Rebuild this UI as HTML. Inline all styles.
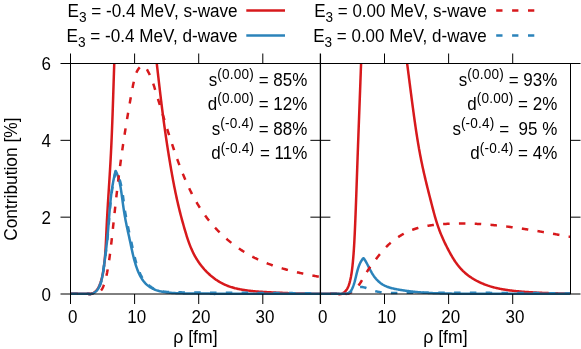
<!DOCTYPE html><html><head><meta charset="utf-8"><title>plot</title><style>html,body{margin:0;padding:0;background:#fff;overflow:hidden}svg{display:block;will-change:transform}text{font-family:"Liberation Sans",sans-serif;fill:#000}</style></head><body>
<svg width="581" height="349" viewBox="0 0 581 349">
<rect width="581" height="349" fill="#fff"/>
<defs><clipPath id="cl"><rect x="70.50" y="63.50" width="249.90" height="232.50"/></clipPath><clipPath id="cr"><rect x="320.40" y="63.50" width="250.10" height="232.50"/></clipPath></defs>
<path d="M70.50 293.70 L71.27 293.70 L72.04 293.70 L72.81 293.70 L73.58 293.70 L74.35 293.70 L75.12 293.70 L75.90 293.70 L76.67 293.70 L77.44 293.70 L78.21 293.70 L78.98 293.70 L79.75 293.70 L80.52 293.70 L81.29 293.70 L82.06 293.70 L82.83 293.70 L83.60 293.70 L84.38 293.70 L85.15 293.70 L85.92 293.70 L86.69 293.70 L87.46 293.70 L88.23 293.70 L89.00 293.70 L89.16 294.31 L90.03 294.17 L90.86 293.97 L91.64 293.72 L92.38 293.43 L93.08 293.10 L93.74 292.72 L94.37 292.31 L94.96 291.86 L95.52 291.37 L96.04 290.85 L96.54 290.30 L97.01 289.72 L97.45 289.12 L97.86 288.49 L98.25 287.84 L98.62 287.17 L98.96 286.48 L99.29 285.77 L99.60 285.05 L99.89 284.32 L100.17 283.58 L100.44 282.83 L100.69 282.07 L100.93 281.31 L101.17 280.55 L101.39 279.78 L101.60 279.01 L101.80 278.23 L102.00 277.45 L102.18 276.67 L102.36 275.89 L102.53 275.10 L102.69 274.31 L102.85 273.52 L103.00 272.72 L103.14 271.93 L103.27 271.13 L103.40 270.33 L103.52 269.53 L103.64 268.73 L103.76 267.93 L103.86 267.12 L103.97 266.32 L104.07 265.52 L104.17 264.72 L104.26 263.91 L104.35 263.11 L104.44 262.31 L104.53 261.51 L104.61 260.71 L104.69 259.91 L104.77 259.11 L104.84 258.31 L104.91 257.51 L104.98 256.71 L105.05 255.92 L105.11 255.12 L105.18 254.32 L105.24 253.52 L105.30 252.72 L105.35 251.93 L105.41 251.13 L105.46 250.33 L105.51 249.54 L105.56 248.74 L105.61 247.95 L105.66 247.15 L105.70 246.35 L105.75 245.56 L105.79 244.76 L105.83 243.97 L105.87 243.17 L105.91 242.38 L105.95 241.58 L105.99 240.79 L106.03 239.99 L106.07 239.20 L106.10 238.41 L106.14 237.61 L106.18 236.82 L106.21 236.02 L106.25 235.23 L106.28 234.43 L106.32 233.64 L106.35 232.85 L106.39 232.05 L106.42 231.26 L106.46 230.46 L106.50 229.67 L106.53 228.87 L106.57 228.08 L106.61 227.28 L106.65 226.49 L106.69 225.70 L106.73 224.90 L106.77 224.11 L106.81 223.31 L106.85 222.52 L106.89 221.72 L106.93 220.92 L106.97 220.13 L107.01 219.33 L107.06 218.54 L107.10 217.74 L107.14 216.95 L107.19 216.15 L107.23 215.36 L107.28 214.56 L107.32 213.76 L107.37 212.97 L107.41 212.17 L107.46 211.38 L107.50 210.58 L107.55 209.79 L107.60 208.99 L107.65 208.19 L107.69 207.40 L107.74 206.60 L107.79 205.80 L107.84 205.01 L107.88 204.21 L107.93 203.41 L107.98 202.62 L108.03 201.82 L108.08 201.03 L108.13 200.23 L108.18 199.43 L108.23 198.64 L108.28 197.84 L108.33 197.04 L108.38 196.24 L108.43 195.45 L108.48 194.65 L108.53 193.85 L108.58 193.06 L108.63 192.26 L108.68 191.46 L108.73 190.67 L108.78 189.87 L108.83 189.07 L108.88 188.27 L108.93 187.48 L108.98 186.68 L109.03 185.88 L109.08 185.09 L109.13 184.29 L109.18 183.49 L109.23 182.69 L109.28 181.90 L109.33 181.10 L109.38 180.30 L109.43 179.50 L109.48 178.71 L109.53 177.91 L109.58 177.11 L109.63 176.31 L109.68 175.52 L109.73 174.72 L109.78 173.92 L109.82 173.12 L109.87 172.33 L109.92 171.53 L109.97 170.73 L110.02 169.93 L110.06 169.14 L110.11 168.34 L110.16 167.54 L110.20 166.74 L110.25 165.95 L110.30 165.15 L110.34 164.35 L110.39 163.55 L110.43 162.76 L110.48 161.96 L110.52 161.16 L110.57 160.36 L110.61 159.57 L110.65 158.77 L110.69 157.97 L110.74 157.17 L110.78 156.38 L110.82 155.58 L110.86 154.78 L110.90 153.98 L110.94 153.19 L110.98 152.39 L111.02 151.59 L111.06 150.79 L111.10 150.00 L111.14 149.20 L111.18 148.40 L111.22 147.60 L111.26 146.81 L111.29 146.01 L111.33 145.21 L111.37 144.41 L111.41 143.62 L111.44 142.82 L111.48 142.02 L111.51 141.22 L111.55 140.43 L111.58 139.63 L111.62 138.83 L111.65 138.03 L111.69 137.24 L111.72 136.44 L111.76 135.64 L111.79 134.84 L111.82 134.05 L111.86 133.25 L111.89 132.45 L111.92 131.66 L111.95 130.86 L111.99 130.06 L112.02 129.26 L112.05 128.47 L112.08 127.67 L112.11 126.87 L112.14 126.07 L112.17 125.28 L112.20 124.48 L112.24 123.68 L112.27 122.88 L112.30 122.09 L112.33 121.29 L112.35 120.49 L112.38 119.69 L112.41 118.90 L112.44 118.10 L112.47 117.30 L112.50 116.51 L112.53 115.71 L112.56 114.91 L112.59 114.11 L112.61 113.32 L112.64 112.52 L112.67 111.72 L112.70 110.92 L112.72 110.13 L112.75 109.33 L112.78 108.53 L112.81 107.73 L112.83 106.94 L112.86 106.14 L112.89 105.34 L112.91 104.54 L112.94 103.75 L112.97 102.95 L112.99 102.15 L113.02 101.36 L113.05 100.56 L113.07 99.76 L113.10 98.96 L113.13 98.17 L113.15 97.37 L113.18 96.57 L113.20 95.77 L113.23 94.98 L113.25 94.18 L113.28 93.38 L113.31 92.58 L113.33 91.79 L113.36 90.99 L113.38 90.19 L113.41 89.39 L113.43 88.60 L113.46 87.80 L113.49 87.00 L113.51 86.20 L113.54 85.41 L113.56 84.61 L113.59 83.81 L113.61 83.01 L113.64 82.22 L113.66 81.42 L113.69 80.62 L113.72 79.82 L113.74 79.03 L113.77 78.23 L113.79 77.43 L113.82 76.63 L113.84 75.84 L113.87 75.04 L113.90 74.24 L113.92 73.44 L113.95 72.65 L113.97 71.85 L114.00 71.05 L114.03 70.25 L114.05 69.46 L114.08 68.66 L114.11 67.86 L114.13 67.06 L114.16 66.27 L114.19 65.47 L114.21 64.67 L114.24 63.87 L114.27 63.08 L114.29 62.28 L114.32 61.48 L114.35 60.68 L114.38 59.89 L114.40 59.09 L114.43 58.29 L114.46 57.49 L114.49 56.70 L114.52 55.90 L114.54 55.10 L114.57 54.30 L114.60 53.50 L114.63 52.71 L114.66 51.91 L114.69 51.11 L114.72 50.31 L114.75 49.52 L114.78 48.72 L114.81 47.92 L114.84 47.12 L114.87 46.32 L114.90 45.53 L114.93 44.73 L114.96 43.93 L114.99 43.13 L115.02 42.33 L115.06 41.54 L115.09 40.74 L115.12 39.94 L115.15 39.14 L115.19 38.35 L115.22 37.55 L115.25 36.75 L115.29 35.95 L115.32 35.15 L115.35 34.36 L115.39 33.56 L115.42 32.76 L115.46 31.96 L115.49 31.16 L115.53 30.37 L115.56 29.57 L115.60 28.77 L115.63 27.97 L115.67 27.17 L115.71 26.37 L115.74 25.58 L115.78 24.78 L115.82 23.98 L115.86 23.18 L115.90 22.38 L115.94 21.59 L115.97 20.79 L116.01 19.99 M151.43 20.00 L151.54 20.80 L151.65 21.59 L151.75 22.38 L151.86 23.17 L151.97 23.97 L152.07 24.76 L152.17 25.55 L152.28 26.34 L152.38 27.13 L152.48 27.93 L152.59 28.72 L152.69 29.51 L152.79 30.31 L152.89 31.10 L152.99 31.89 L153.09 32.68 L153.19 33.48 L153.29 34.27 L153.39 35.06 L153.49 35.86 L153.59 36.65 L153.69 37.44 L153.79 38.23 L153.88 39.03 L153.98 39.82 L154.08 40.61 L154.17 41.41 L154.27 42.20 L154.37 42.99 L154.46 43.79 L154.56 44.58 L154.65 45.37 L154.75 46.17 L154.84 46.96 L154.94 47.75 L155.03 48.55 L155.13 49.34 L155.22 50.13 L155.31 50.93 L155.41 51.72 L155.50 52.51 L155.59 53.31 L155.69 54.10 L155.78 54.89 L155.87 55.69 L155.96 56.48 L156.06 57.27 L156.15 58.07 L156.24 58.86 L156.33 59.65 L156.42 60.45 L156.52 61.24 L156.61 62.03 L156.70 62.83 L156.79 63.62 L156.88 64.42 L156.97 65.21 L157.06 66.00 L157.15 66.80 L157.25 67.59 L157.34 68.38 L157.43 69.18 L157.52 69.97 L157.61 70.76 L157.70 71.56 L157.79 72.35 L157.88 73.15 L157.97 73.94 L158.07 74.73 L158.16 75.53 L158.25 76.32 L158.34 77.11 L158.43 77.91 L158.52 78.70 L158.61 79.49 L158.70 80.29 L158.80 81.08 L158.89 81.87 L158.98 82.67 L159.07 83.46 L159.16 84.25 L159.26 85.05 L159.35 85.84 L159.44 86.63 L159.53 87.43 L159.63 88.22 L159.72 89.02 L159.81 89.81 L159.91 90.60 L160.00 91.40 L160.09 92.19 L160.19 92.98 L160.28 93.77 L160.38 94.57 L160.47 95.36 L160.57 96.15 L160.66 96.95 L160.76 97.74 L160.85 98.53 L160.95 99.33 L161.04 100.12 L161.14 100.91 L161.24 101.71 L161.33 102.50 L161.43 103.29 L161.53 104.08 L161.63 104.88 L161.73 105.67 L161.82 106.46 L161.92 107.26 L162.02 108.05 L162.12 108.84 L162.22 109.63 L162.32 110.43 L162.43 111.22 L162.53 112.01 L162.63 112.80 L162.73 113.60 L162.83 114.39 L162.94 115.18 L163.04 115.97 L163.14 116.77 L163.25 117.56 L163.35 118.35 L163.46 119.14 L163.57 119.93 L163.67 120.73 L163.78 121.52 L163.89 122.31 L163.99 123.10 L164.10 123.89 L164.21 124.69 L164.32 125.48 L164.43 126.27 L164.54 127.06 L164.65 127.85 L164.76 128.64 L164.87 129.43 L164.98 130.23 L165.09 131.02 L165.21 131.81 L165.32 132.60 L165.43 133.39 L165.55 134.18 L165.66 134.97 L165.78 135.76 L165.89 136.55 L166.01 137.35 L166.13 138.14 L166.24 138.93 L166.36 139.72 L166.48 140.51 L166.60 141.30 L166.71 142.09 L166.83 142.88 L166.95 143.67 L167.07 144.46 L167.19 145.25 L167.31 146.04 L167.44 146.83 L167.56 147.62 L167.68 148.41 L167.80 149.20 L167.93 149.99 L168.05 150.78 L168.18 151.57 L168.30 152.35 L168.43 153.14 L168.55 153.93 L168.68 154.72 L168.80 155.51 L168.93 156.30 L169.06 157.09 L169.19 157.88 L169.32 158.67 L169.45 159.45 L169.58 160.24 L169.71 161.03 L169.84 161.82 L169.97 162.61 L170.10 163.39 L170.23 164.18 L170.37 164.97 L170.50 165.76 L170.63 166.54 L170.77 167.33 L170.90 168.12 L171.04 168.91 L171.17 169.69 L171.31 170.48 L171.45 171.27 L171.59 172.05 L171.73 172.84 L171.87 173.63 L172.01 174.41 L172.15 175.20 L172.29 175.98 L172.43 176.77 L172.58 177.55 L172.72 178.34 L172.86 179.12 L173.01 179.91 L173.16 180.69 L173.31 181.48 L173.45 182.26 L173.60 183.05 L173.75 183.83 L173.90 184.61 L174.06 185.40 L174.21 186.18 L174.36 186.96 L174.52 187.74 L174.68 188.53 L174.83 189.31 L174.99 190.09 L175.15 190.87 L175.31 191.65 L175.47 192.43 L175.64 193.22 L175.80 194.00 L175.97 194.78 L176.13 195.56 L176.30 196.34 L176.47 197.12 L176.64 197.89 L176.81 198.67 L176.98 199.45 L177.15 200.23 L177.33 201.01 L177.51 201.79 L177.68 202.56 L177.86 203.34 L178.04 204.12 L178.22 204.89 L178.41 205.67 L178.59 206.45 L178.78 207.22 L178.96 208.00 L179.15 208.77 L179.34 209.55 L179.54 210.32 L179.73 211.09 L179.92 211.87 L180.12 212.64 L180.32 213.41 L180.51 214.19 L180.71 214.96 L180.92 215.73 L181.12 216.50 L181.32 217.27 L181.53 218.05 L181.74 218.82 L181.94 219.59 L182.15 220.36 L182.36 221.13 L182.58 221.90 L182.79 222.67 L183.00 223.44 L183.22 224.21 L183.44 224.98 L183.66 225.76 L183.88 226.53 L184.10 227.30 L184.32 228.07 L184.55 228.84 L184.77 229.61 L185.00 230.38 L185.23 231.15 L185.46 231.92 L185.69 232.69 L185.92 233.46 L186.15 234.23 L186.39 235.00 L186.63 235.77 L186.87 236.54 L187.12 237.30 L187.37 238.07 L187.62 238.83 L187.87 239.60 L188.13 240.36 L188.39 241.12 L188.66 241.88 L188.93 242.64 L189.20 243.39 L189.48 244.14 L189.77 244.90 L190.06 245.64 L190.35 246.39 L190.65 247.13 L190.96 247.88 L191.27 248.61 L191.59 249.35 L191.92 250.08 L192.25 250.81 L192.59 251.54 L192.93 252.26 L193.28 252.98 L193.64 253.69 L194.01 254.41 L194.39 255.11 L194.77 255.82 L195.16 256.52 L195.56 257.21 L195.96 257.90 L196.37 258.59 L196.79 259.27 L197.22 259.95 L197.65 260.62 L198.09 261.29 L198.54 261.95 L198.99 262.61 L199.45 263.26 L199.92 263.91 L200.40 264.55 L200.88 265.19 L201.37 265.82 L201.86 266.44 L202.37 267.06 L202.88 267.67 L203.39 268.28 L203.91 268.88 L204.44 269.48 L204.98 270.06 L205.52 270.65 L206.06 271.22 L206.62 271.79 L207.18 272.35 L207.75 272.90 L208.32 273.45 L208.90 273.99 L209.48 274.52 L210.07 275.05 L210.67 275.57 L211.27 276.08 L211.88 276.58 L212.50 277.07 L213.12 277.56 L213.75 278.04 L214.38 278.51 L215.02 278.97 L215.66 279.43 L216.31 279.87 L216.97 280.31 L217.63 280.74 L218.29 281.15 L218.96 281.56 L219.64 281.97 L220.32 282.36 L221.01 282.74 L221.70 283.11 L222.40 283.48 L223.11 283.83 L223.81 284.18 L224.53 284.51 L225.25 284.84 L225.97 285.15 L226.70 285.46 L227.43 285.75 L228.17 286.04 L228.91 286.31 L229.66 286.57 L230.41 286.83 L231.17 287.08 L231.93 287.31 L232.69 287.54 L233.46 287.76 L234.23 287.97 L235.01 288.18 L235.79 288.37 L236.57 288.56 L237.35 288.74 L238.13 288.91 L238.92 289.08 L239.71 289.24 L240.51 289.39 L241.30 289.54 L242.10 289.68 L242.90 289.81 L243.70 289.94 L244.50 290.07 L245.30 290.19 L246.10 290.30 L246.91 290.41 L247.71 290.52 L248.51 290.62 L249.32 290.72 L250.12 290.81 L250.93 290.90 L251.73 290.99 L252.54 291.07 L253.34 291.15 L254.15 291.23 L254.95 291.30 L255.76 291.38 L256.56 291.45 L257.36 291.51 L258.17 291.58 L258.97 291.64 L259.77 291.70 L260.57 291.76 L261.38 291.82 L262.18 291.87 L262.98 291.92 L263.78 291.97 L264.58 292.02 L265.38 292.07 L266.19 292.11 L266.99 292.16 L267.79 292.20 L268.59 292.24 L269.38 292.29 L270.18 292.33 L270.98 292.37 L271.78 292.40 L272.58 292.44 L273.38 292.48 L274.17 292.52 L274.97 292.55 L275.77 292.59 L276.56 292.63 L277.36 292.66 L278.15 292.70 L278.95 292.74 L279.74 292.77 L280.54 292.81 L281.33 292.84 L282.13 292.87 L282.92 292.91 L283.71 292.94 L284.51 292.97 L285.30 293.01 L286.09 293.04 L286.89 293.07 L287.68 293.10 L288.47 293.13 L289.27 293.16 L290.06 293.19 L290.85 293.22 L291.65 293.25 L292.44 293.27 L293.24 293.30 L294.03 293.33 L294.82 293.35 L295.62 293.38 L296.41 293.40 L297.21 293.42 L298.00 293.44 L298.80 293.47 L299.59 293.49 L300.39 293.51 L301.18 293.53 L301.98 293.54 L302.78 293.56 L303.58 293.58 L304.37 293.59 L305.17 293.61 L305.97 293.62 L306.77 293.64 L307.57 293.65 L308.37 293.66 L309.17 293.67 L309.97 293.68 L310.78 293.69 L311.58 293.69 L312.38 293.70 L313.19 293.70 L313.99 293.71 L314.80 293.71 L315.60 293.71 L316.41 293.71 L317.22 293.71 L318.03 293.71 L318.84 293.70 L319.65 293.70 L320.46 293.69" fill="none" stroke="#d7191c" stroke-width="2.5" stroke-linejoin="round" clip-path="url(#cl)"/>
<path d="M70.50 293.70 L71.27 293.70 L72.04 293.70 L72.81 293.70 L73.58 293.70 L74.35 293.70 L75.12 293.70 L75.90 293.70 L76.67 293.70 L77.44 293.70 L78.21 293.70 L78.98 293.70 L79.75 293.70 L80.52 293.70 L81.29 293.70 L82.06 293.70 L82.83 293.70 L83.60 293.70 L84.38 293.70 L85.15 293.70 L85.92 293.70 L86.69 293.70 L87.46 293.70 L88.23 293.70 L89.00 293.70 L88.98 294.06 L89.89 294.01 L90.76 293.90 L91.59 293.73 L92.36 293.50 L93.10 293.22 L93.80 292.90 L94.45 292.52 L95.07 292.10 L95.65 291.64 L96.20 291.14 L96.71 290.61 L97.20 290.04 L97.65 289.44 L98.08 288.81 L98.47 288.15 L98.85 287.47 L99.20 286.77 L99.53 286.05 L99.83 285.32 L100.12 284.58 L100.39 283.82 L100.65 283.06 L100.89 282.29 L101.12 281.52 L101.34 280.75 L101.54 279.97 L101.74 279.19 L101.92 278.41 L102.10 277.63 L102.26 276.84 L102.42 276.05 L102.57 275.26 L102.71 274.47 L102.85 273.68 L102.98 272.88 L103.10 272.09 L103.22 271.29 L103.34 270.50 L103.45 269.70 L103.56 268.90 L103.67 268.11 L103.78 267.31 L103.89 266.51 L104.00 265.72 L104.11 264.92 L104.21 264.13 L104.32 263.34 L104.43 262.54 L104.53 261.75 L104.64 260.96 L104.74 260.17 L104.85 259.38 L104.95 258.59 L105.05 257.80 L105.16 257.01 L105.26 256.22 L105.36 255.43 L105.46 254.64 L105.56 253.85 L105.66 253.06 L105.76 252.27 L105.86 251.49 L105.95 250.70 L106.05 249.91 L106.14 249.12 L106.24 248.33 L106.33 247.55 L106.42 246.76 L106.51 245.97 L106.60 245.18 L106.69 244.39 L106.78 243.61 L106.87 242.82 L106.95 242.03 L107.04 241.24 L107.12 240.45 L107.20 239.66 L107.28 238.87 L107.36 238.08 L107.44 237.29 L107.52 236.50 L107.59 235.71 L107.67 234.92 L107.74 234.13 L107.81 233.34 L107.88 232.55 L107.95 231.75 L108.02 230.96 L108.09 230.17 L108.15 229.37 L108.22 228.58 L108.28 227.79 L108.35 226.99 L108.41 226.20 L108.47 225.40 L108.54 224.61 L108.60 223.81 L108.66 223.02 L108.72 222.22 L108.78 221.43 L108.84 220.63 L108.90 219.84 L108.96 219.04 L109.03 218.25 L109.09 217.45 L109.15 216.65 L109.21 215.86 L109.27 215.06 L109.34 214.27 L109.40 213.47 L109.46 212.67 L109.53 211.88 L109.59 211.08 L109.66 210.29 L109.72 209.49 L109.79 208.70 L109.86 207.90 L109.93 207.11 L110.00 206.31 L110.08 205.52 L110.15 204.72 L110.22 203.93 L110.30 203.14 L110.38 202.34 L110.46 201.55 L110.54 200.76 L110.62 199.96 L110.71 199.17 L110.79 198.38 L110.88 197.59 L110.97 196.80 L111.07 196.00 L111.16 195.21 L111.26 194.42 L111.36 193.63 L111.46 192.85 L111.57 192.06 L111.67 191.27 L111.78 190.48 L111.89 189.69 L112.01 188.91 L112.13 188.12 L112.25 187.34 L112.37 186.55 L112.50 185.77 L112.63 184.98 L112.76 184.20 L112.90 183.42 L113.04 182.64 L113.18 181.85 L113.33 181.07 L113.48 180.29 L113.63 179.52 L113.79 178.74 L113.95 177.96 L114.11 177.18 L114.28 176.41 L114.45 175.63 L114.63 174.86 L114.81 174.08 L114.99 173.31 L115.18 172.54 L115.38 171.77 L115.58 171.00 L115.77 170.98 L116.12 171.72 L116.46 172.46 L116.77 173.20 L117.08 173.95 L117.37 174.69 L117.65 175.45 L117.91 176.20 L118.16 176.96 L118.40 177.72 L118.63 178.48 L118.85 179.25 L119.05 180.02 L119.25 180.79 L119.44 181.56 L119.62 182.33 L119.79 183.11 L119.95 183.89 L120.11 184.67 L120.26 185.45 L120.40 186.23 L120.54 187.02 L120.67 187.80 L120.80 188.59 L120.92 189.38 L121.04 190.16 L121.16 190.95 L121.27 191.74 L121.39 192.53 L121.50 193.32 L121.61 194.12 L121.72 194.91 L121.82 195.70 L121.93 196.49 L122.04 197.28 L122.15 198.07 L122.25 198.86 L122.36 199.66 L122.47 200.45 L122.58 201.24 L122.69 202.03 L122.79 202.82 L122.90 203.61 L123.01 204.41 L123.13 205.20 L123.24 205.99 L123.35 206.78 L123.47 207.57 L123.58 208.36 L123.70 209.15 L123.82 209.94 L123.94 210.73 L124.06 211.52 L124.19 212.31 L124.31 213.10 L124.44 213.89 L124.57 214.67 L124.71 215.46 L124.84 216.25 L124.98 217.04 L125.12 217.82 L125.26 218.61 L125.41 219.39 L125.56 220.18 L125.71 220.96 L125.86 221.75 L126.02 222.53 L126.18 223.31 L126.34 224.10 L126.50 224.88 L126.66 225.66 L126.82 226.44 L126.99 227.22 L127.16 228.00 L127.32 228.78 L127.49 229.56 L127.66 230.34 L127.83 231.12 L128.00 231.90 L128.17 232.68 L128.35 233.46 L128.52 234.24 L128.69 235.02 L128.86 235.80 L129.03 236.57 L129.20 237.35 L129.37 238.13 L129.54 238.91 L129.71 239.68 L129.88 240.46 L130.05 241.24 L130.21 242.02 L130.38 242.79 L130.54 243.57 L130.70 244.34 L130.87 245.12 L131.03 245.90 L131.20 246.67 L131.36 247.45 L131.53 248.23 L131.69 249.00 L131.86 249.78 L132.03 250.55 L132.20 251.33 L132.38 252.11 L132.55 252.88 L132.73 253.66 L132.91 254.44 L133.10 255.21 L133.28 255.99 L133.47 256.76 L133.67 257.54 L133.87 258.32 L134.07 259.09 L134.28 259.87 L134.49 260.65 L134.71 261.43 L134.93 262.20 L135.16 262.98 L135.39 263.76 L135.63 264.54 L135.88 265.31 L136.13 266.09 L136.39 266.87 L136.66 267.64 L136.93 268.41 L137.21 269.18 L137.50 269.95 L137.80 270.71 L138.11 271.46 L138.43 272.21 L138.75 272.96 L139.09 273.70 L139.44 274.43 L139.80 275.15 L140.17 275.86 L140.55 276.56 L140.94 277.26 L141.35 277.94 L141.76 278.62 L142.19 279.28 L142.64 279.92 L143.09 280.56 L143.56 281.18 L144.05 281.79 L144.55 282.38 L145.06 282.96 L145.59 283.52 L146.14 284.06 L146.70 284.59 L147.27 285.10 L147.87 285.59 L148.48 286.06 L149.10 286.52 L149.74 286.95 L150.39 287.37 L151.06 287.77 L151.74 288.15 L152.43 288.52 L153.13 288.86 L153.84 289.19 L154.56 289.51 L155.30 289.80 L156.04 290.08 L156.79 290.34 L157.55 290.59 L158.31 290.81 L159.08 291.03 L159.86 291.22 L160.64 291.40 L161.43 291.57 L162.22 291.73 L163.02 291.88 L163.82 292.01 L164.62 292.13 L165.43 292.25 L166.23 292.35 L167.04 292.45 L167.85 292.54 L168.66 292.62 L169.47 292.70 L170.27 292.77 L171.08 292.84 L171.89 292.90 L172.69 292.96 L173.50 293.01 L174.30 293.06 L175.10 293.11 L175.91 293.15 L176.71 293.19 L177.51 293.22 L178.31 293.25 L179.11 293.28 L179.91 293.30 L180.71 293.33 L181.51 293.35 L182.31 293.36 L183.11 293.38 L183.91 293.39 L184.70 293.40 L185.50 293.41 L186.30 293.41 L187.10 293.42 L187.89 293.42 L188.69 293.42 L189.49 293.42 L190.28 293.42 L191.08 293.42 L191.87 293.42 L192.67 293.42 L193.47 293.42 L194.26 293.42 L195.06 293.42 L195.85 293.42 L196.65 293.42 L197.44 293.42 L198.24 293.42 L199.04 293.42 L199.83 293.43 L200.63 293.43 L201.42 293.44 L202.22 293.45 L203.02 293.46 L203.81 293.47 L204.61 293.48 L205.41 293.50 L206.20 293.52 L207.00 293.54 L207.80 293.57 L208.60 293.59 L209.40 293.62 L210.20 293.66 L211.00 293.70 L211.80 293.74 L212.60 293.79 L213.40 293.84 L214.20 293.89 L215.00 293.95 L215.00 293.70 L215.80 293.70 L216.60 293.70 L217.40 293.70 L218.19 293.70 L218.99 293.70 L219.79 293.70 L220.59 293.70 L221.39 293.70 L222.19 293.70 L222.98 293.70 L223.78 293.70 L224.58 293.70 L225.38 293.70 L226.18 293.70 L226.98 293.70 L227.78 293.70 L228.57 293.70 L229.37 293.70 L230.17 293.70 L230.97 293.70 L231.77 293.70 L232.57 293.70 L233.37 293.70 L234.16 293.70 L234.96 293.70 L235.76 293.70 L236.56 293.70 L237.36 293.70 L238.16 293.70 L238.95 293.70 L239.75 293.70 L240.55 293.70 L241.35 293.70 L242.15 293.70 L242.95 293.70 L243.75 293.70 L244.54 293.70 L245.34 293.70 L246.14 293.70 L246.94 293.70 L247.74 293.70 L248.54 293.70 L249.33 293.70 L250.13 293.70 L250.93 293.70 L251.73 293.70 L252.53 293.70 L253.33 293.70 L254.13 293.70 L254.92 293.70 L255.72 293.70 L256.52 293.70 L257.32 293.70 L258.12 293.70 L258.92 293.70 L259.72 293.70 L260.51 293.70 L261.31 293.70 L262.11 293.70 L262.91 293.70 L263.71 293.70 L264.51 293.70 L265.30 293.70 L266.10 293.70 L266.90 293.70 L267.70 293.70 L268.50 293.70 L269.30 293.70 L270.10 293.70 L270.89 293.70 L271.69 293.70 L272.49 293.70 L273.29 293.70 L274.09 293.70 L274.89 293.70 L275.68 293.70 L276.48 293.70 L277.28 293.70 L278.08 293.70 L278.88 293.70 L279.68 293.70 L280.48 293.70 L281.27 293.70 L282.07 293.70 L282.87 293.70 L283.67 293.70 L284.47 293.70 L285.27 293.70 L286.07 293.70 L286.86 293.70 L287.66 293.70 L288.46 293.70 L289.26 293.70 L290.06 293.70 L290.86 293.70 L291.65 293.70 L292.45 293.70 L293.25 293.70 L294.05 293.70 L294.85 293.70 L295.65 293.70 L296.45 293.70 L297.24 293.70 L298.04 293.70 L298.84 293.70 L299.64 293.70 L300.44 293.70 L301.24 293.70 L302.03 293.70 L302.83 293.70 L303.63 293.70 L304.43 293.70 L305.23 293.70 L306.03 293.70 L306.83 293.70 L307.62 293.70 L308.42 293.70 L309.22 293.70 L310.02 293.70 L310.82 293.70 L311.62 293.70 L312.42 293.70 L313.21 293.70 L314.01 293.70 L314.81 293.70 L315.61 293.70 L316.41 293.70 L317.21 293.70 L318.00 293.70 L318.80 293.70 L319.60 293.70 L320.40 293.70" fill="none" stroke="#2b83ba" stroke-width="2.5" stroke-linejoin="round" clip-path="url(#cl)"/>
<path d="M70.50 293.70 L71.30 293.70 L72.09 293.70 L72.89 293.70 L73.69 293.70 L74.48 293.70 L75.28 293.70 L76.07 293.70 L76.87 293.70 L77.67 293.70 L78.46 293.70 L79.26 293.70 L80.06 293.70 L80.85 293.70 L81.65 293.70 L82.44 293.70 L83.24 293.70 L84.04 293.70 L84.83 293.70 L85.63 293.70 L86.43 293.70 L87.22 293.70 L88.02 293.70 L88.81 293.70 L89.61 293.70 L90.41 293.70 L91.20 293.70 L92.00 293.70 L91.72 293.58 L92.76 293.75 L93.74 293.83 L94.66 293.84 L95.52 293.76 L96.33 293.62 L97.09 293.40 L97.80 293.13 L98.47 292.79 L99.09 292.39 L99.67 291.94 L100.21 291.44 L100.71 290.90 L101.18 290.31 L101.62 289.69 L102.02 289.04 L102.40 288.35 L102.75 287.64 L103.09 286.91 L103.40 286.16 L103.69 285.40 L103.97 284.62 L104.23 283.85 L104.48 283.07 L104.72 282.28 L104.96 281.50 L105.18 280.72 L105.40 279.94 L105.61 279.16 L105.81 278.38 L106.00 277.60 L106.19 276.82 L106.37 276.04 L106.54 275.26 L106.71 274.48 L106.87 273.69 L107.03 272.91 L107.19 272.13 L107.33 271.35 L107.48 270.56 L107.62 269.78 L107.76 268.99 L107.89 268.21 L108.03 267.42 L108.16 266.64 L108.29 265.85 L108.42 265.06 L108.54 264.28 L108.66 263.49 L108.79 262.70 L108.90 261.91 L109.02 261.12 L109.14 260.33 L109.25 259.54 L109.36 258.75 L109.48 257.96 L109.59 257.17 L109.69 256.38 L109.80 255.59 L109.90 254.80 L110.01 254.00 L110.11 253.21 L110.21 252.42 L110.31 251.62 L110.41 250.83 L110.51 250.04 L110.60 249.24 L110.70 248.45 L110.79 247.65 L110.89 246.86 L110.98 246.06 L111.07 245.27 L111.16 244.47 L111.25 243.68 L111.34 242.88 L111.43 242.09 L111.52 241.29 L111.61 240.50 L111.70 239.70 L111.79 238.90 L111.87 238.11 L111.96 237.31 L112.04 236.52 L112.13 235.72 L112.22 234.93 L112.30 234.13 L112.39 233.33 L112.47 232.54 L112.56 231.74 L112.64 230.95 L112.73 230.15 L112.81 229.36 L112.90 228.56 L112.98 227.77 L113.07 226.97 L113.15 226.18 L113.24 225.38 L113.33 224.58 L113.41 223.79 L113.50 222.99 L113.58 222.20 L113.67 221.40 L113.75 220.61 L113.84 219.81 L113.92 219.02 L114.01 218.23 L114.09 217.43 L114.18 216.64 L114.26 215.84 L114.35 215.05 L114.43 214.25 L114.52 213.46 L114.60 212.66 L114.69 211.87 L114.78 211.07 L114.86 210.28 L114.95 209.48 L115.04 208.69 L115.12 207.90 L115.21 207.10 L115.30 206.31 L115.38 205.51 L115.47 204.72 L115.56 203.92 L115.64 203.13 L115.73 202.34 L115.82 201.54 L115.91 200.75 L116.00 199.95 L116.09 199.16 L116.17 198.37 L116.26 197.57 L116.35 196.78 L116.44 195.99 L116.53 195.19 L116.62 194.40 L116.71 193.60 L116.80 192.81 L116.89 192.02 L116.99 191.22 L117.08 190.43 L117.17 189.64 L117.26 188.84 L117.35 188.05 L117.45 187.25 L117.54 186.46 L117.63 185.67 L117.73 184.87 L117.82 184.08 L117.91 183.29 L118.01 182.49 L118.10 181.70 L118.20 180.91 L118.30 180.11 L118.39 179.32 L118.49 178.53 L118.59 177.73 L118.68 176.94 L118.78 176.15 L118.88 175.35 L118.98 174.56 L119.08 173.77 L119.18 172.97 L119.28 172.18 L119.38 171.39 L119.48 170.59 L119.58 169.80 L119.69 169.01 L119.79 168.21 L119.89 167.42 L120.00 166.63 L120.10 165.84 L120.21 165.04 L120.31 164.25 L120.42 163.46 L120.52 162.66 L120.63 161.87 L120.74 161.08 L120.85 160.28 L120.95 159.49 L121.06 158.70 L121.17 157.90 L121.28 157.11 L121.39 156.32 L121.50 155.53 L121.61 154.73 L121.73 153.94 L121.84 153.15 L121.95 152.36 L122.06 151.56 L122.18 150.77 L122.29 149.98 L122.41 149.19 L122.52 148.39 L122.64 147.60 L122.75 146.81 L122.87 146.02 L122.99 145.23 L123.10 144.43 L123.22 143.64 L123.34 142.85 L123.46 142.06 L123.58 141.27 L123.70 140.47 L123.82 139.68 L123.94 138.89 L124.06 138.10 L124.18 137.31 L124.30 136.52 L124.42 135.73 L124.54 134.94 L124.67 134.15 L124.79 133.35 L124.91 132.56 L125.04 131.77 L125.16 130.98 L125.28 130.19 L125.41 129.40 L125.53 128.61 L125.66 127.82 L125.79 127.03 L125.91 126.24 L126.04 125.45 L126.17 124.67 L126.29 123.88 L126.42 123.09 L126.55 122.30 L126.68 121.51 L126.81 120.72 L126.94 119.93 L127.07 119.14 L127.20 118.36 L127.33 117.57 L127.46 116.78 L127.59 115.99 L127.72 115.20 L127.85 114.42 L127.98 113.63 L128.11 112.84 L128.25 112.06 L128.38 111.27 L128.51 110.48 L128.64 109.70 L128.78 108.91 L128.91 108.12 L129.05 107.34 L129.18 106.55 L129.31 105.77 L129.45 104.98 L129.58 104.20 L129.72 103.41 L129.86 102.63 L129.99 101.84 L130.13 101.06 L130.26 100.28 L130.40 99.49 L130.54 98.71 L130.68 97.92 L130.81 97.14 L130.95 96.36 L131.09 95.57 L131.23 94.79 L131.37 94.01 L131.52 93.22 L131.66 92.44 L131.80 91.65 L131.95 90.87 L132.10 90.08 L132.25 89.29 L132.40 88.50 L132.55 87.71 L132.71 86.92 L132.86 86.13 L133.02 85.34 L133.18 84.55 L133.35 83.75 L133.52 82.95 L133.69 82.16 L133.86 81.36 L134.03 80.55 L134.22 79.75 L134.40 78.96 L134.60 78.16 L134.81 77.37 L135.03 76.58 L135.26 75.80 L135.50 75.03 L135.77 74.27 L136.05 73.52 L136.35 72.79 L136.67 72.06 L137.01 71.35 L137.38 70.66 L137.77 69.99 L138.19 69.33 L138.64 68.70 L139.12 68.08 L139.63 67.49 L140.17 66.93 L140.75 66.40 L141.34 65.97 L141.95 65.65 L142.57 65.50 L143.19 65.54 L143.80 65.79 L144.40 66.20 L144.98 66.76 L145.55 67.41 L146.08 68.13 L146.59 68.90 L147.07 69.69 L147.53 70.49 L147.96 71.28 L148.36 72.05 L148.74 72.78 L149.10 73.50 L149.45 74.20 L149.78 74.90 L150.10 75.60 L150.41 76.30 L150.72 77.02 L151.02 77.74 L151.31 78.46 L151.60 79.19 L151.88 79.93 L152.16 80.67 L152.43 81.42 L152.69 82.17 L152.96 82.92 L153.21 83.68 L153.47 84.44 L153.72 85.20 L153.97 85.97 L154.22 86.73 L154.46 87.50 L154.70 88.27 L154.94 89.04 L155.18 89.81 L155.42 90.58 L155.66 91.35 L155.90 92.12 L156.14 92.89 L156.37 93.66 L156.61 94.43 L156.85 95.20 L157.08 95.96 L157.32 96.73 L157.56 97.50 L157.79 98.27 L158.03 99.03 L158.26 99.80 L158.49 100.57 L158.73 101.33 L158.96 102.10 L159.20 102.87 L159.43 103.63 L159.66 104.40 L159.89 105.16 L160.13 105.93 L160.36 106.69 L160.59 107.46 L160.83 108.22 L161.06 108.99 L161.29 109.75 L161.52 110.52 L161.76 111.28 L161.99 112.04 L162.22 112.81 L162.45 113.57 L162.69 114.33 L162.92 115.10 L163.15 115.86 L163.38 116.62 L163.62 117.38 L163.85 118.15 L164.08 118.91 L164.32 119.67 L164.55 120.43 L164.79 121.19 L165.02 121.95 L165.25 122.71 L165.49 123.47 L165.72 124.23 L165.96 125.00 L166.20 125.76 L166.43 126.52 L166.67 127.28 L166.91 128.04 L167.14 128.80 L167.38 129.55 L167.62 130.31 L167.86 131.07 L168.10 131.83 L168.34 132.59 L168.58 133.35 L168.82 134.11 L169.06 134.87 L169.30 135.63 L169.55 136.38 L169.79 137.14 L170.03 137.90 L170.28 138.66 L170.52 139.42 L170.77 140.17 L171.02 140.93 L171.27 141.69 L171.51 142.45 L171.76 143.20 L172.01 143.96 L172.26 144.72 L172.52 145.47 L172.77 146.23 L173.02 146.99 L173.28 147.75 L173.53 148.50 L173.79 149.26 L174.05 150.01 L174.30 150.77 L174.56 151.53 L174.82 152.28 L175.09 153.04 L175.35 153.80 L175.61 154.55 L175.88 155.31 L176.14 156.06 L176.41 156.82 L176.68 157.57 L176.95 158.33 L177.22 159.09 L177.49 159.84 L177.76 160.59 L178.04 161.35 L178.31 162.10 L178.59 162.86 L178.87 163.61 L179.15 164.36 L179.43 165.12 L179.71 165.87 L180.00 166.62 L180.28 167.37 L180.57 168.12 L180.86 168.87 L181.15 169.62 L181.44 170.37 L181.74 171.12 L182.03 171.86 L182.33 172.61 L182.63 173.36 L182.93 174.10 L183.24 174.85 L183.54 175.59 L183.85 176.33 L184.16 177.07 L184.47 177.81 L184.79 178.55 L185.10 179.29 L185.42 180.03 L185.74 180.77 L186.06 181.50 L186.39 182.23 L186.71 182.97 L187.04 183.70 L187.37 184.43 L187.71 185.16 L188.04 185.89 L188.38 186.62 L188.72 187.34 L189.07 188.07 L189.41 188.79 L189.76 189.51 L190.11 190.23 L190.47 190.95 L190.82 191.66 L191.18 192.38 L191.54 193.09 L191.91 193.81 L192.27 194.52 L192.64 195.23 L193.02 195.93 L193.39 196.64 L193.77 197.34 L194.15 198.05 L194.53 198.75 L194.92 199.44 L195.31 200.14 L195.70 200.84 L196.10 201.53 L196.50 202.22 L196.90 202.91 L197.31 203.59 L197.72 204.28 L198.13 204.96 L198.54 205.64 L198.96 206.32 L199.38 207.00 L199.81 207.67 L200.24 208.34 L200.67 209.01 L201.10 209.68 L201.54 210.35 L201.99 211.01 L202.43 211.67 L202.88 212.33 L203.33 212.98 L203.79 213.64 L204.25 214.29 L204.71 214.93 L205.18 215.58 L205.65 216.22 L206.13 216.86 L206.61 217.50 L207.09 218.14 L207.58 218.77 L208.07 219.40 L208.56 220.02 L209.06 220.65 L209.56 221.27 L210.06 221.89 L210.57 222.51 L211.08 223.12 L211.60 223.73 L212.12 224.34 L212.64 224.94 L213.16 225.54 L213.69 226.14 L214.23 226.74 L214.76 227.33 L215.30 227.92 L215.84 228.51 L216.39 229.09 L216.94 229.67 L217.49 230.25 L218.05 230.82 L218.61 231.39 L219.17 231.96 L219.74 232.53 L220.30 233.09 L220.88 233.65 L221.45 234.20 L222.03 234.76 L222.61 235.31 L223.20 235.85 L223.79 236.39 L224.38 236.93 L224.97 237.47 L225.57 238.00 L226.17 238.53 L226.77 239.06 L227.38 239.58 L227.99 240.10 L228.60 240.61 L229.21 241.12 L229.83 241.63 L230.45 242.14 L231.08 242.64 L231.70 243.14 L232.33 243.63 L232.97 244.12 L233.60 244.61 L234.24 245.09 L234.88 245.57 L235.52 246.04 L236.17 246.52 L236.82 246.98 L237.47 247.45 L238.12 247.91 L238.78 248.37 L239.44 248.82 L240.10 249.27 L240.77 249.71 L241.43 250.15 L242.10 250.59 L242.77 251.02 L243.45 251.45 L244.13 251.88 L244.81 252.30 L245.49 252.72 L246.17 253.13 L246.86 253.54 L247.55 253.95 L248.24 254.35 L248.93 254.74 L249.63 255.14 L250.33 255.52 L251.03 255.91 L251.73 256.29 L252.44 256.66 L253.15 257.04 L253.86 257.40 L254.57 257.77 L255.28 258.12 L256.00 258.48 L256.72 258.83 L257.44 259.17 L258.16 259.52 L258.89 259.85 L259.61 260.18 L260.34 260.51 L261.07 260.84 L261.80 261.16 L262.54 261.47 L263.28 261.78 L264.01 262.09 L264.75 262.40 L265.49 262.69 L266.24 262.99 L266.98 263.28 L267.73 263.57 L268.48 263.86 L269.23 264.14 L269.98 264.41 L270.73 264.69 L271.48 264.96 L272.24 265.23 L273.00 265.49 L273.75 265.75 L274.51 266.01 L275.27 266.26 L276.04 266.51 L276.80 266.76 L277.56 267.00 L278.33 267.24 L279.09 267.48 L279.86 267.72 L280.63 267.95 L281.40 268.18 L282.17 268.40 L282.94 268.63 L283.71 268.85 L284.49 269.06 L285.26 269.28 L286.03 269.49 L286.81 269.70 L287.58 269.91 L288.36 270.12 L289.14 270.32 L289.91 270.52 L290.69 270.72 L291.47 270.91 L292.25 271.11 L293.03 271.30 L293.81 271.49 L294.59 271.68 L295.37 271.86 L296.15 272.04 L296.93 272.23 L297.71 272.41 L298.49 272.58 L299.27 272.76 L300.05 272.93 L300.83 273.11 L301.62 273.28 L302.40 273.45 L303.18 273.62 L303.96 273.78 L304.74 273.95 L305.52 274.11 L306.30 274.27 L307.08 274.43 L307.86 274.59 L308.64 274.75 L309.42 274.91 L310.20 275.07 L310.98 275.22 L311.76 275.38 L312.53 275.53 L313.31 275.68 L314.09 275.83 L314.86 275.98 L315.64 276.13 L316.41 276.28 L317.19 276.43 L317.96 276.58 L318.73 276.73 L319.50 276.87 L320.27 277.02" fill="none" stroke="#d7191c" stroke-width="2.5" stroke-linejoin="round" stroke-dasharray="6.5 9.3" stroke-dashoffset="-0.6" clip-path="url(#cl)"/>
<path d="M70.50 293.70 L71.27 293.70 L72.04 293.70 L72.81 293.70 L73.58 293.70 L74.35 293.70 L75.12 293.70 L75.90 293.70 L76.67 293.70 L77.44 293.70 L78.21 293.70 L78.98 293.70 L79.75 293.70 L80.52 293.70 L81.29 293.70 L82.06 293.70 L82.83 293.70 L83.60 293.70 L84.38 293.70 L85.15 293.70 L85.92 293.70 L86.69 293.70 L87.46 293.70 L88.23 293.70 L89.00 293.70 L88.95 293.99 L89.87 293.97 L90.75 293.89 L91.58 293.74 L92.37 293.54 L93.11 293.28 L93.81 292.97 L94.48 292.61 L95.10 292.20 L95.69 291.75 L96.24 291.26 L96.76 290.72 L97.25 290.16 L97.70 289.56 L98.13 288.93 L98.53 288.27 L98.91 287.59 L99.26 286.89 L99.59 286.17 L99.90 285.43 L100.19 284.68 L100.46 283.93 L100.72 283.16 L100.96 282.39 L101.19 281.62 L101.41 280.85 L101.61 280.07 L101.81 279.29 L101.99 278.51 L102.16 277.73 L102.33 276.94 L102.48 276.16 L102.63 275.37 L102.77 274.58 L102.91 273.79 L103.04 273.00 L103.16 272.20 L103.28 271.41 L103.40 270.62 L103.51 269.82 L103.62 269.03 L103.73 268.24 L103.84 267.44 L103.95 266.65 L104.06 265.86 L104.17 265.07 L104.27 264.28 L104.38 263.49 L104.49 262.69 L104.60 261.90 L104.70 261.11 L104.81 260.33 L104.92 259.54 L105.02 258.75 L105.13 257.96 L105.23 257.17 L105.34 256.38 L105.44 255.59 L105.54 254.81 L105.65 254.02 L105.75 253.23 L105.85 252.44 L105.95 251.66 L106.05 250.87 L106.15 250.08 L106.25 249.30 L106.34 248.51 L106.44 247.72 L106.53 246.93 L106.63 246.15 L106.72 245.36 L106.81 244.57 L106.90 243.79 L106.99 243.00 L107.08 242.21 L107.17 241.42 L107.26 240.63 L107.34 239.84 L107.42 239.06 L107.51 238.27 L107.59 237.48 L107.67 236.69 L107.74 235.90 L107.82 235.11 L107.89 234.32 L107.97 233.52 L108.04 232.73 L108.11 231.94 L108.18 231.15 L108.25 230.36 L108.31 229.56 L108.38 228.77 L108.45 227.98 L108.51 227.19 L108.58 226.39 L108.64 225.60 L108.70 224.80 L108.77 224.01 L108.83 223.22 L108.89 222.42 L108.95 221.63 L109.01 220.83 L109.07 220.04 L109.14 219.24 L109.20 218.45 L109.26 217.65 L109.32 216.86 L109.38 216.06 L109.44 215.27 L109.51 214.47 L109.57 213.68 L109.63 212.89 L109.70 212.09 L109.76 211.30 L109.83 210.50 L109.90 209.71 L109.96 208.91 L110.03 208.12 L110.10 207.33 L110.17 206.53 L110.25 205.74 L110.32 204.95 L110.40 204.15 L110.47 203.36 L110.55 202.57 L110.63 201.78 L110.71 200.99 L110.79 200.19 L110.88 199.40 L110.97 198.61 L111.06 197.82 L111.15 197.03 L111.24 196.24 L111.34 195.45 L111.43 194.66 L111.53 193.88 L111.64 193.09 L111.74 192.30 L111.85 191.51 L111.96 190.73 L112.07 189.94 L112.19 189.16 L112.31 188.37 L112.43 187.59 L112.56 186.81 L112.68 186.02 L112.82 185.24 L112.95 184.46 L113.09 183.68 L113.23 182.90 L113.38 182.12 L113.52 181.34 L113.68 180.56 L113.83 179.78 L113.99 179.01 L114.16 178.23 L114.32 177.45 L114.50 176.68 L114.67 175.91 L114.85 175.13 L115.04 174.36 L115.22 173.59 L115.42 172.82 L115.61 172.05 L115.82 171.28 L116.18 171.25 L116.55 171.98 L116.91 172.70 L117.25 173.44 L117.58 174.17 L117.89 174.91 L118.20 175.65 L118.49 176.40 L118.77 177.14 L119.04 177.89 L119.30 178.65 L119.54 179.40 L119.78 180.16 L120.01 180.92 L120.22 181.69 L120.43 182.45 L120.63 183.22 L120.82 183.99 L121.01 184.77 L121.18 185.54 L121.35 186.32 L121.51 187.10 L121.67 187.88 L121.81 188.66 L121.96 189.44 L122.09 190.23 L122.23 191.01 L122.35 191.80 L122.48 192.59 L122.60 193.38 L122.71 194.17 L122.83 194.96 L122.93 195.75 L123.04 196.54 L123.15 197.34 L123.25 198.13 L123.35 198.93 L123.45 199.72 L123.55 200.52 L123.65 201.31 L123.75 202.11 L123.86 202.90 L123.96 203.70 L124.06 204.49 L124.16 205.29 L124.27 206.08 L124.38 206.88 L124.49 207.67 L124.61 208.46 L124.72 209.26 L124.84 210.05 L124.97 210.84 L125.09 211.63 L125.22 212.42 L125.36 213.21 L125.49 213.99 L125.63 214.78 L125.77 215.57 L125.91 216.36 L126.05 217.14 L126.20 217.93 L126.35 218.71 L126.50 219.50 L126.65 220.28 L126.81 221.06 L126.96 221.85 L127.12 222.63 L127.28 223.41 L127.44 224.19 L127.61 224.98 L127.77 225.76 L127.93 226.54 L128.10 227.32 L128.27 228.10 L128.43 228.88 L128.60 229.66 L128.77 230.44 L128.94 231.21 L129.11 231.99 L129.28 232.77 L129.46 233.55 L129.63 234.33 L129.80 235.11 L129.97 235.88 L130.14 236.66 L130.32 237.44 L130.49 238.21 L130.66 238.99 L130.83 239.77 L131.00 240.55 L131.17 241.32 L131.34 242.10 L131.51 242.88 L131.68 243.65 L131.85 244.43 L132.01 245.20 L132.18 245.98 L132.35 246.76 L132.51 247.53 L132.68 248.31 L132.85 249.09 L133.02 249.86 L133.19 250.64 L133.36 251.42 L133.54 252.20 L133.71 252.97 L133.89 253.75 L134.07 254.53 L134.25 255.31 L134.44 256.09 L134.63 256.87 L134.82 257.65 L135.02 258.43 L135.22 259.21 L135.42 259.99 L135.63 260.77 L135.85 261.55 L136.06 262.34 L136.29 263.12 L136.52 263.90 L136.75 264.68 L136.99 265.47 L137.24 266.25 L137.50 267.02 L137.76 267.80 L138.03 268.57 L138.31 269.34 L138.60 270.10 L138.90 270.86 L139.21 271.62 L139.53 272.36 L139.87 273.10 L140.21 273.84 L140.57 274.56 L140.93 275.28 L141.32 275.99 L141.71 276.69 L142.12 277.38 L142.55 278.06 L142.99 278.72 L143.44 279.38 L143.91 280.02 L144.40 280.65 L144.90 281.27 L145.41 281.87 L145.95 282.46 L146.49 283.04 L147.05 283.60 L147.62 284.14 L148.20 284.67 L148.80 285.19 L149.41 285.68 L150.03 286.16 L150.66 286.62 L151.31 287.07 L151.96 287.49 L152.63 287.90 L153.30 288.28 L153.99 288.65 L154.68 289.00 L155.38 289.33 L156.09 289.63 L156.81 289.92 L157.54 290.18 L158.27 290.42 L159.02 290.64 L159.76 290.84 L160.52 291.02 L161.28 291.19 L162.05 291.34 L162.82 291.47 L163.59 291.59 L164.38 291.69 L165.16 291.78 L165.95 291.86 L166.74 291.93 L167.54 291.99 L168.34 292.05 L169.14 292.09 L169.94 292.13 L170.75 292.16 L171.55 292.18 L172.36 292.21 L173.17 292.22 L173.98 292.24 L174.79 292.26 L175.60 292.27 L176.41 292.29 L177.21 292.30 L178.02 292.32 L178.83 292.33 L179.64 292.35 L180.45 292.36 L181.25 292.37 L182.06 292.39 L182.87 292.40 L183.67 292.41 L184.48 292.43 L185.28 292.44 L186.09 292.45 L186.90 292.46 L187.70 292.47 L188.51 292.48 L189.31 292.49 L190.12 292.51 L190.92 292.52 L191.72 292.53 L192.53 292.54 L193.33 292.55 L194.14 292.56 L194.94 292.56 L195.74 292.57 L196.55 292.58 L197.35 292.59 L198.15 292.60 L198.96 292.61 L199.76 292.62 L200.56 292.62 L201.36 292.63 L202.17 292.64 L202.97 292.65 L203.77 292.65 L204.57 292.66 L205.37 292.67 L206.17 292.67 L206.97 292.68 L207.78 292.69 L208.58 292.69 L209.38 292.70 L210.18 292.70 L210.98 292.71 L211.78 292.71 L212.58 292.72 L213.38 292.72 L214.18 292.73 L214.98 292.73 L215.78 292.74 L216.58 292.74 L217.38 292.75 L218.18 292.75 L218.98 292.76 L219.78 292.76 L220.57 292.76 L221.37 292.77 L222.17 292.77 L222.97 292.78 L223.77 292.78 L224.57 292.78 L225.37 292.79 L226.17 292.79 L226.96 292.79 L227.76 292.80 L228.56 292.80 L229.36 292.80 L230.16 292.81 L230.95 292.81 L231.75 292.81 L232.55 292.81 L233.35 292.82 L234.15 292.82 L234.94 292.82 L235.74 292.83 L236.54 292.83 L237.34 292.83 L238.13 292.83 L238.93 292.84 L239.73 292.84 L240.53 292.84 L241.32 292.84 L242.12 292.84 L242.92 292.85 L243.71 292.85 L244.51 292.85 L245.31 292.85 L246.11 292.86 L246.90 292.86 L247.70 292.86 L248.50 292.86 L249.29 292.87 L250.09 292.87 L250.89 292.87 L251.68 292.87 L252.48 292.88 L253.28 292.88 L254.08 292.88 L254.87 292.88 L255.67 292.89 L256.47 292.89 L257.26 292.89 L258.06 292.90 L258.86 292.90 L259.66 292.90 L260.45 292.90 L261.25 292.91 L262.05 292.91 L262.84 292.91 L263.64 292.92 L264.44 292.92 L265.24 292.92 L266.03 292.93 L266.83 292.93 L267.63 292.94 L268.43 292.94 L269.22 292.94 L270.02 292.95 L270.82 292.95 L271.62 292.96 L272.41 292.96 L273.21 292.96 L274.01 292.97 L274.81 292.97 L275.61 292.98 L276.40 292.98 L277.20 292.99 L278.00 293.00 L278.80 293.00 L279.60 293.01 L280.40 293.01 L281.19 293.02 L281.99 293.02 L282.79 293.03 L283.59 293.04 L284.39 293.04 L285.19 293.05 L285.99 293.06 L286.79 293.07 L287.59 293.07 L288.39 293.08 L289.19 293.09 L289.99 293.10 L290.79 293.10 L291.59 293.11 L292.39 293.12 L293.19 293.13 L293.99 293.14 L294.79 293.15 L295.59 293.16 L296.39 293.17 L297.19 293.18 L297.99 293.19 L298.79 293.20 L299.59 293.21 L300.39 293.22 L301.20 293.23 L302.00 293.24 L302.80 293.25 L303.60 293.27 L304.40 293.28 L305.21 293.29 L306.01 293.30 L306.81 293.32 L307.62 293.33 L308.42 293.34 L309.22 293.36 L310.03 293.37 L310.83 293.39 L311.63 293.40 L312.44 293.41 L313.24 293.43 L314.05 293.45 L314.85 293.46 L315.66 293.48 L316.46 293.49 L317.27 293.51 L318.07 293.53 L318.88 293.55 L319.68 293.56 L320.49 293.58" fill="none" stroke="#2b83ba" stroke-width="2.5" stroke-linejoin="round" stroke-dasharray="6.5 9.3" stroke-dashoffset="-0.6" clip-path="url(#cl)"/>
<path d="M320.40 293.70 L321.17 293.70 L321.95 293.70 L322.72 293.70 L323.50 293.70 L324.27 293.70 L325.05 293.70 L325.82 293.70 L326.60 293.70 L327.38 293.70 L328.15 293.70 L328.93 293.70 L329.70 293.70 L330.47 293.70 L331.25 293.70 L332.02 293.70 L332.80 293.70 L333.57 293.70 L334.35 293.70 L335.12 293.70 L335.90 293.70 L336.68 293.70 L337.45 293.70 L338.23 293.70 L339.00 293.70 L339.21 294.30 L340.08 294.15 L340.91 293.94 L341.68 293.69 L342.41 293.38 L343.09 293.03 L343.73 292.64 L344.33 292.20 L344.89 291.73 L345.41 291.22 L345.90 290.68 L346.35 290.10 L346.77 289.50 L347.16 288.87 L347.53 288.21 L347.87 287.53 L348.18 286.83 L348.47 286.12 L348.75 285.39 L349.00 284.64 L349.24 283.89 L349.47 283.13 L349.68 282.36 L349.88 281.58 L350.08 280.81 L350.26 280.03 L350.44 279.25 L350.61 278.47 L350.77 277.69 L350.93 276.90 L351.07 276.11 L351.21 275.32 L351.35 274.53 L351.48 273.74 L351.60 272.95 L351.72 272.15 L351.83 271.36 L351.94 270.56 L352.04 269.76 L352.14 268.96 L352.23 268.17 L352.32 267.37 L352.41 266.57 L352.50 265.77 L352.58 264.97 L352.66 264.17 L352.74 263.37 L352.82 262.57 L352.90 261.77 L352.97 260.97 L353.04 260.17 L353.11 259.37 L353.18 258.58 L353.25 257.78 L353.32 256.98 L353.38 256.18 L353.44 255.38 L353.51 254.59 L353.57 253.79 L353.62 252.99 L353.68 252.19 L353.74 251.40 L353.79 250.60 L353.85 249.80 L353.90 249.01 L353.95 248.21 L354.00 247.41 L354.05 246.62 L354.10 245.82 L354.15 245.02 L354.19 244.23 L354.24 243.43 L354.28 242.63 L354.33 241.84 L354.37 241.04 L354.41 240.24 L354.45 239.45 L354.49 238.65 L354.53 237.86 L354.57 237.06 L354.61 236.26 L354.65 235.47 L354.69 234.67 L354.73 233.87 L354.76 233.08 L354.80 232.28 L354.83 231.48 L354.87 230.69 L354.91 229.89 L354.94 229.10 L354.98 228.30 L355.01 227.50 L355.04 226.71 L355.08 225.91 L355.11 225.11 L355.15 224.32 L355.18 223.52 L355.21 222.72 L355.25 221.92 L355.28 221.13 L355.31 220.33 L355.35 219.53 L355.38 218.74 L355.41 217.94 L355.44 217.14 L355.47 216.34 L355.51 215.55 L355.54 214.75 L355.57 213.95 L355.60 213.15 L355.63 212.36 L355.66 211.56 L355.69 210.76 L355.73 209.96 L355.76 209.16 L355.79 208.37 L355.82 207.57 L355.85 206.77 L355.88 205.97 L355.91 205.17 L355.94 204.38 L355.97 203.58 L356.00 202.78 L356.03 201.98 L356.06 201.18 L356.09 200.39 L356.11 199.59 L356.14 198.79 L356.17 197.99 L356.20 197.19 L356.23 196.39 L356.26 195.60 L356.29 194.80 L356.32 194.00 L356.35 193.20 L356.37 192.40 L356.40 191.60 L356.43 190.80 L356.46 190.01 L356.49 189.21 L356.52 188.41 L356.54 187.61 L356.57 186.81 L356.60 186.01 L356.63 185.21 L356.66 184.42 L356.68 183.62 L356.71 182.82 L356.74 182.02 L356.77 181.22 L356.80 180.42 L356.82 179.62 L356.85 178.83 L356.88 178.03 L356.91 177.23 L356.93 176.43 L356.96 175.63 L356.99 174.83 L357.02 174.03 L357.05 173.23 L357.07 172.44 L357.10 171.64 L357.13 170.84 L357.16 170.04 L357.18 169.24 L357.21 168.44 L357.24 167.64 L357.27 166.85 L357.29 166.05 L357.32 165.25 L357.35 164.45 L357.38 163.65 L357.41 162.85 L357.43 162.05 L357.46 161.26 L357.49 160.46 L357.52 159.66 L357.55 158.86 L357.58 158.06 L357.60 157.26 L357.63 156.46 L357.66 155.67 L357.69 154.87 L357.72 154.07 L357.75 153.27 L357.77 152.47 L357.80 151.67 L357.83 150.88 L357.86 150.08 L357.89 149.28 L357.92 148.48 L357.95 147.68 L357.98 146.88 L358.01 146.09 L358.03 145.29 L358.06 144.49 L358.09 143.69 L358.12 142.89 L358.15 142.10 L358.18 141.30 L358.21 140.50 L358.24 139.70 L358.27 138.90 L358.30 138.10 L358.33 137.31 L358.36 136.51 L358.39 135.71 L358.42 134.91 L358.44 134.11 L358.47 133.32 L358.50 132.52 L358.53 131.72 L358.56 130.92 L358.59 130.12 L358.62 129.33 L358.65 128.53 L358.68 127.73 L358.71 126.93 L358.74 126.14 L358.77 125.34 L358.80 124.54 L358.83 123.74 L358.86 122.94 L358.89 122.15 L358.92 121.35 L358.95 120.55 L358.98 119.75 L359.01 118.95 L359.04 118.16 L359.07 117.36 L359.10 116.56 L359.13 115.76 L359.16 114.97 L359.19 114.17 L359.22 113.37 L359.25 112.57 L359.28 111.77 L359.31 110.98 L359.34 110.18 L359.37 109.38 L359.40 108.58 L359.43 107.78 L359.46 106.99 L359.49 106.19 L359.52 105.39 L359.55 104.59 L359.58 103.80 L359.61 103.00 L359.64 102.20 L359.67 101.40 L359.70 100.61 L359.73 99.81 L359.76 99.01 L359.79 98.21 L359.82 97.41 L359.85 96.62 L359.88 95.82 L359.91 95.02 L359.94 94.22 L359.97 93.43 L360.00 92.63 L360.03 91.83 L360.06 91.03 L360.09 90.23 L360.12 89.44 L360.15 88.64 L360.18 87.84 L360.21 87.04 L360.24 86.25 L360.27 85.45 L360.30 84.65 L360.33 83.85 L360.36 83.05 L360.39 82.26 L360.41 81.46 L360.44 80.66 L360.47 79.86 L360.50 79.06 L360.53 78.27 L360.56 77.47 L360.59 76.67 L360.62 75.87 L360.65 75.08 L360.68 74.28 L360.71 73.48 L360.74 72.68 L360.77 71.88 L360.80 71.09 L360.82 70.29 L360.85 69.49 L360.88 68.69 L360.91 67.89 L360.94 67.10 L360.97 66.30 L361.00 65.50 L361.03 64.70 L361.06 63.90 L361.08 63.11 L361.11 62.31 L361.14 61.51 L361.17 60.71 L361.20 59.91 L361.23 59.12 L361.25 58.32 L361.28 57.52 L361.31 56.72 L361.34 55.92 L361.37 55.13 L361.39 54.33 L361.42 53.53 L361.45 52.73 L361.48 51.93 L361.51 51.13 L361.53 50.34 L361.56 49.54 L361.59 48.74 L361.62 47.94 L361.64 47.14 L361.67 46.35 L361.70 45.55 L361.73 44.75 L361.75 43.95 L361.78 43.15 L361.81 42.35 L361.83 41.55 L361.86 40.76 L361.89 39.96 L361.91 39.16 L361.94 38.36 L361.97 37.56 L361.99 36.76 L362.02 35.97 L362.05 35.17 L362.07 34.37 L362.10 33.57 L362.13 32.77 L362.15 31.97 L362.18 31.17 L362.20 30.37 L362.23 29.58 L362.25 28.78 L362.28 27.98 L362.31 27.18 L362.33 26.38 L362.36 25.58 L362.38 24.78 L362.41 23.98 L362.43 23.19 L362.46 22.39 L362.48 21.59 L362.51 20.79 L362.53 19.99 M401.06 20.03 L401.18 20.82 L401.30 21.61 L401.42 22.40 L401.54 23.18 L401.66 23.97 L401.77 24.76 L401.89 25.55 L402.01 26.34 L402.13 27.13 L402.24 27.92 L402.36 28.71 L402.48 29.50 L402.59 30.29 L402.71 31.08 L402.82 31.87 L402.94 32.66 L403.05 33.45 L403.16 34.24 L403.28 35.03 L403.39 35.82 L403.50 36.61 L403.61 37.40 L403.72 38.19 L403.84 38.98 L403.95 39.77 L404.06 40.57 L404.17 41.36 L404.28 42.15 L404.39 42.94 L404.49 43.73 L404.60 44.52 L404.71 45.31 L404.82 46.10 L404.93 46.90 L405.04 47.69 L405.14 48.48 L405.25 49.27 L405.36 50.06 L405.46 50.85 L405.57 51.65 L405.68 52.44 L405.78 53.23 L405.89 54.02 L405.99 54.81 L406.10 55.60 L406.20 56.40 L406.31 57.19 L406.41 57.98 L406.52 58.77 L406.62 59.56 L406.72 60.36 L406.83 61.15 L406.93 61.94 L407.04 62.73 L407.14 63.53 L407.24 64.32 L407.34 65.11 L407.45 65.90 L407.55 66.70 L407.65 67.49 L407.76 68.28 L407.86 69.07 L407.96 69.87 L408.06 70.66 L408.17 71.45 L408.27 72.24 L408.37 73.04 L408.47 73.83 L408.57 74.62 L408.68 75.41 L408.78 76.21 L408.88 77.00 L408.98 77.79 L409.08 78.58 L409.18 79.38 L409.29 80.17 L409.39 80.96 L409.49 81.75 L409.59 82.55 L409.69 83.34 L409.80 84.13 L409.90 84.92 L410.00 85.72 L410.10 86.51 L410.20 87.30 L410.31 88.09 L410.41 88.89 L410.51 89.68 L410.61 90.47 L410.72 91.26 L410.82 92.06 L410.92 92.85 L411.02 93.64 L411.13 94.43 L411.23 95.23 L411.33 96.02 L411.44 96.81 L411.54 97.60 L411.64 98.40 L411.75 99.19 L411.85 99.98 L411.95 100.77 L412.06 101.56 L412.16 102.36 L412.27 103.15 L412.37 103.94 L412.48 104.73 L412.58 105.52 L412.69 106.32 L412.79 107.11 L412.90 107.90 L413.01 108.69 L413.11 109.48 L413.22 110.27 L413.32 111.07 L413.43 111.86 L413.54 112.65 L413.65 113.44 L413.76 114.23 L413.86 115.02 L413.97 115.81 L414.08 116.60 L414.19 117.39 L414.30 118.19 L414.41 118.98 L414.52 119.77 L414.63 120.56 L414.74 121.35 L414.86 122.14 L414.97 122.93 L415.08 123.72 L415.19 124.51 L415.31 125.30 L415.42 126.09 L415.54 126.88 L415.65 127.67 L415.77 128.46 L415.89 129.25 L416.00 130.04 L416.12 130.83 L416.24 131.62 L416.36 132.41 L416.48 133.19 L416.60 133.98 L416.73 134.77 L416.85 135.56 L416.97 136.35 L417.10 137.14 L417.22 137.93 L417.35 138.71 L417.48 139.50 L417.60 140.29 L417.73 141.08 L417.86 141.86 L417.99 142.65 L418.12 143.44 L418.26 144.23 L418.39 145.01 L418.53 145.80 L418.66 146.59 L418.80 147.37 L418.94 148.16 L419.07 148.94 L419.22 149.73 L419.36 150.51 L419.50 151.30 L419.64 152.09 L419.79 152.87 L419.93 153.65 L420.08 154.44 L420.23 155.22 L420.38 156.01 L420.53 156.79 L420.68 157.58 L420.84 158.36 L420.99 159.14 L421.15 159.93 L421.30 160.71 L421.46 161.49 L421.62 162.27 L421.79 163.06 L421.95 163.84 L422.11 164.62 L422.28 165.40 L422.45 166.18 L422.61 166.96 L422.78 167.75 L422.95 168.53 L423.13 169.31 L423.30 170.09 L423.47 170.87 L423.65 171.65 L423.82 172.43 L424.00 173.21 L424.18 173.99 L424.36 174.77 L424.54 175.54 L424.72 176.32 L424.90 177.10 L425.08 177.88 L425.27 178.66 L425.45 179.44 L425.64 180.22 L425.82 180.99 L426.01 181.77 L426.20 182.55 L426.39 183.33 L426.58 184.10 L426.77 184.88 L426.96 185.66 L427.15 186.43 L427.34 187.21 L427.53 187.98 L427.73 188.76 L427.92 189.54 L428.11 190.31 L428.31 191.09 L428.50 191.86 L428.70 192.64 L428.90 193.41 L429.09 194.19 L429.29 194.96 L429.49 195.74 L429.68 196.51 L429.88 197.29 L430.08 198.06 L430.28 198.83 L430.48 199.61 L430.68 200.38 L430.88 201.15 L431.08 201.93 L431.28 202.70 L431.47 203.47 L431.67 204.25 L431.87 205.02 L432.07 205.79 L432.28 206.56 L432.48 207.34 L432.68 208.11 L432.88 208.88 L433.08 209.65 L433.28 210.42 L433.49 211.19 L433.69 211.96 L433.90 212.73 L434.11 213.50 L434.32 214.27 L434.53 215.04 L434.75 215.80 L434.96 216.57 L435.18 217.34 L435.40 218.10 L435.63 218.86 L435.85 219.63 L436.08 220.39 L436.31 221.15 L436.55 221.91 L436.79 222.67 L437.03 223.43 L437.27 224.18 L437.52 224.94 L437.77 225.69 L438.03 226.45 L438.29 227.20 L438.56 227.95 L438.83 228.70 L439.10 229.45 L439.38 230.19 L439.67 230.94 L439.95 231.68 L440.24 232.42 L440.54 233.16 L440.84 233.90 L441.14 234.64 L441.45 235.38 L441.76 236.11 L442.08 236.85 L442.40 237.58 L442.72 238.31 L443.05 239.04 L443.38 239.77 L443.71 240.50 L444.05 241.23 L444.39 241.95 L444.73 242.68 L445.08 243.40 L445.43 244.12 L445.78 244.84 L446.14 245.56 L446.50 246.28 L446.86 246.99 L447.23 247.71 L447.59 248.43 L447.96 249.14 L448.34 249.85 L448.71 250.56 L449.09 251.27 L449.47 251.98 L449.86 252.69 L450.24 253.39 L450.63 254.09 L451.03 254.79 L451.43 255.49 L451.83 256.19 L452.24 256.88 L452.65 257.57 L453.07 258.25 L453.49 258.93 L453.92 259.61 L454.35 260.28 L454.79 260.94 L455.23 261.61 L455.69 262.26 L456.14 262.91 L456.61 263.56 L457.08 264.20 L457.56 264.84 L458.05 265.46 L458.54 266.08 L459.04 266.70 L459.55 267.31 L460.07 267.91 L460.60 268.50 L461.13 269.08 L461.68 269.66 L462.23 270.23 L462.79 270.79 L463.37 271.34 L463.95 271.89 L464.53 272.42 L465.13 272.95 L465.74 273.47 L466.35 273.98 L466.97 274.48 L467.60 274.97 L468.23 275.46 L468.88 275.94 L469.53 276.41 L470.18 276.87 L470.84 277.32 L471.51 277.76 L472.18 278.20 L472.86 278.62 L473.55 279.04 L474.24 279.45 L474.93 279.85 L475.63 280.24 L476.33 280.63 L477.04 281.00 L477.75 281.37 L478.47 281.73 L479.19 282.08 L479.91 282.42 L480.63 282.76 L481.36 283.08 L482.09 283.40 L482.83 283.71 L483.56 284.01 L484.30 284.30 L485.05 284.59 L485.79 284.87 L486.54 285.14 L487.29 285.40 L488.04 285.66 L488.80 285.90 L489.55 286.15 L490.31 286.38 L491.08 286.61 L491.84 286.83 L492.61 287.05 L493.38 287.25 L494.15 287.46 L494.92 287.65 L495.69 287.84 L496.47 288.03 L497.25 288.21 L498.03 288.38 L498.81 288.55 L499.59 288.71 L500.37 288.87 L501.16 289.02 L501.95 289.17 L502.73 289.31 L503.52 289.45 L504.31 289.59 L505.10 289.72 L505.90 289.84 L506.69 289.96 L507.49 290.08 L508.28 290.19 L509.08 290.30 L509.87 290.40 L510.67 290.51 L511.47 290.61 L512.27 290.70 L513.07 290.79 L513.87 290.88 L514.67 290.97 L515.47 291.05 L516.27 291.13 L517.07 291.21 L517.87 291.28 L518.67 291.36 L519.47 291.43 L520.27 291.50 L521.07 291.57 L521.87 291.63 L522.67 291.70 L523.47 291.76 L524.27 291.82 L525.07 291.88 L525.86 291.94 L526.66 291.99 L527.46 292.05 L528.26 292.11 L529.05 292.16 L529.85 292.21 L530.64 292.26 L531.44 292.31 L532.23 292.36 L533.03 292.41 L533.82 292.46 L534.62 292.50 L535.41 292.55 L536.21 292.59 L537.00 292.63 L537.79 292.68 L538.59 292.72 L539.38 292.76 L540.18 292.79 L540.97 292.83 L541.76 292.87 L542.56 292.90 L543.35 292.93 L544.14 292.97 L544.94 293.00 L545.73 293.03 L546.53 293.06 L547.32 293.09 L548.12 293.11 L548.91 293.14 L549.71 293.17 L550.50 293.19 L551.30 293.21 L552.09 293.24 L552.89 293.26 L553.69 293.28 L554.48 293.30 L555.28 293.32 L556.08 293.33 L556.88 293.35 L557.68 293.37 L558.48 293.38 L559.28 293.39 L560.08 293.41 L560.88 293.42 L561.68 293.43 L562.49 293.44 L563.29 293.45 L564.09 293.46 L564.90 293.46 L565.71 293.47 L566.51 293.48 L567.32 293.48 L568.13 293.48 L568.94 293.49 L569.75 293.49 L570.56 293.49" fill="none" stroke="#d7191c" stroke-width="2.5" stroke-linejoin="round" clip-path="url(#cr)"/>
<path d="M320.40 293.70 L321.19 293.70 L321.97 293.70 L322.76 293.70 L323.55 293.70 L324.33 293.70 L325.12 293.70 L325.91 293.70 L326.69 293.70 L327.48 293.70 L328.27 293.70 L329.05 293.70 L329.84 293.70 L330.63 293.70 L331.41 293.70 L332.20 293.70 L332.99 293.70 L333.77 293.70 L334.56 293.70 L335.35 293.70 L336.13 293.70 L336.92 293.70 L337.71 293.70 L338.49 293.70 L339.28 293.70 L340.07 293.70 L340.85 293.70 L341.64 293.70 L342.43 293.70 L343.21 293.70 L344.00 293.70 L343.96 293.70 L344.91 293.83 L345.79 293.86 L346.61 293.78 L347.36 293.62 L348.06 293.36 L348.70 293.02 L349.29 292.62 L349.84 292.14 L350.34 291.61 L350.80 291.03 L351.23 290.41 L351.62 289.75 L351.98 289.06 L352.33 288.35 L352.65 287.63 L352.95 286.90 L353.24 286.16 L353.51 285.42 L353.77 284.67 L354.01 283.91 L354.25 283.15 L354.47 282.39 L354.69 281.63 L354.89 280.86 L355.09 280.09 L355.29 279.31 L355.48 278.54 L355.67 277.77 L355.85 276.99 L356.04 276.22 L356.22 275.44 L356.40 274.67 L356.59 273.90 L356.78 273.13 L356.97 272.36 L357.17 271.60 L357.37 270.84 L357.58 270.08 L357.80 269.33 L358.03 268.58 L358.27 267.84 L358.52 267.10 L358.78 266.37 L359.05 265.64 L359.34 264.92 L359.64 264.21 L359.96 263.51 L360.30 262.81 L360.65 262.12 L361.03 261.44 L361.42 260.77 L361.84 260.11 L362.28 259.46 L362.74 258.82 L363.23 258.19 L363.65 258.21 L364.09 258.83 L364.52 259.46 L364.94 260.11 L365.35 260.77 L365.75 261.44 L366.14 262.13 L366.53 262.82 L366.91 263.52 L367.29 264.23 L367.66 264.95 L368.03 265.67 L368.40 266.39 L368.76 267.12 L369.13 267.85 L369.50 268.58 L369.87 269.30 L370.25 270.03 L370.63 270.75 L371.02 271.47 L371.42 272.18 L371.82 272.88 L372.24 273.57 L372.66 274.26 L373.10 274.93 L373.54 275.60 L374.00 276.25 L374.47 276.89 L374.95 277.52 L375.45 278.14 L375.95 278.74 L376.47 279.33 L377.00 279.90 L377.54 280.46 L378.10 281.00 L378.66 281.53 L379.24 282.04 L379.84 282.53 L380.44 283.01 L381.06 283.47 L381.69 283.91 L382.34 284.33 L383.00 284.73 L383.67 285.11 L384.35 285.47 L385.05 285.82 L385.76 286.14 L386.48 286.45 L387.21 286.74 L387.95 287.01 L388.70 287.27 L389.46 287.52 L390.22 287.75 L390.99 287.97 L391.77 288.18 L392.55 288.38 L393.34 288.57 L394.13 288.75 L394.93 288.92 L395.72 289.08 L396.52 289.24 L397.32 289.39 L398.12 289.53 L398.92 289.68 L399.71 289.81 L400.51 289.95 L401.31 290.08 L402.10 290.21 L402.90 290.33 L403.69 290.45 L404.48 290.57 L405.28 290.68 L406.07 290.79 L406.86 290.90 L407.65 291.01 L408.44 291.11 L409.23 291.21 L410.02 291.30 L410.81 291.40 L411.60 291.49 L412.40 291.58 L413.19 291.66 L413.98 291.75 L414.77 291.83 L415.56 291.91 L416.35 291.98 L417.14 292.06 L417.93 292.13 L418.72 292.20 L419.52 292.27 L420.31 292.33 L421.10 292.40 L421.89 292.46 L422.69 292.52 L423.48 292.58 L424.27 292.63 L425.07 292.69 L425.86 292.74 L426.65 292.79 L427.45 292.84 L428.24 292.89 L429.04 292.93 L429.83 292.97 L430.62 293.02 L431.42 293.06 L432.21 293.09 L433.01 293.13 L433.80 293.17 L434.60 293.20 L435.39 293.23 L436.19 293.26 L436.98 293.29 L437.78 293.32 L438.57 293.35 L439.37 293.37 L440.17 293.40 L440.96 293.42 L441.76 293.44 L442.55 293.46 L443.35 293.48 L444.15 293.50 L444.94 293.52 L445.74 293.53 L446.54 293.55 L447.33 293.56 L448.13 293.57 L448.92 293.59 L449.72 293.60 L450.52 293.61 L451.31 293.62 L452.11 293.63 L452.91 293.64 L453.71 293.64 L454.50 293.65 L455.30 293.66 L456.10 293.66 L456.89 293.67 L457.69 293.67 L458.49 293.67 L459.28 293.68 L460.08 293.68 L460.88 293.68 L461.68 293.68 L462.47 293.68 L463.27 293.69 L464.07 293.69 L464.86 293.69 L465.66 293.69 L466.46 293.69 L467.25 293.69 L468.05 293.69 L468.85 293.69 L469.65 293.69 L470.44 293.69 L471.24 293.69 L472.04 293.69 L472.83 293.69 L473.63 293.68 L474.43 293.68 L475.22 293.68 L476.02 293.68 L476.82 293.69 L477.61 293.69 L478.41 293.69 L479.20 293.69 L480.00 293.69 L480.00 293.70 L480.79 293.70 L481.59 293.70 L482.38 293.70 L483.18 293.70 L483.97 293.70 L484.76 293.70 L485.56 293.70 L486.35 293.70 L487.14 293.70 L487.94 293.70 L488.73 293.70 L489.53 293.70 L490.32 293.70 L491.11 293.70 L491.91 293.70 L492.70 293.70 L493.50 293.70 L494.29 293.70 L495.08 293.70 L495.88 293.70 L496.67 293.70 L497.46 293.70 L498.26 293.70 L499.05 293.70 L499.85 293.70 L500.64 293.70 L501.43 293.70 L502.23 293.70 L503.02 293.70 L503.82 293.70 L504.61 293.70 L505.40 293.70 L506.20 293.70 L506.99 293.70 L507.79 293.70 L508.58 293.70 L509.37 293.70 L510.17 293.70 L510.96 293.70 L511.75 293.70 L512.55 293.70 L513.34 293.70 L514.14 293.70 L514.93 293.70 L515.72 293.70 L516.52 293.70 L517.31 293.70 L518.11 293.70 L518.90 293.70 L519.69 293.70 L520.49 293.70 L521.28 293.70 L522.07 293.70 L522.87 293.70 L523.66 293.70 L524.46 293.70 L525.25 293.70 L526.04 293.70 L526.84 293.70 L527.63 293.70 L528.43 293.70 L529.22 293.70 L530.01 293.70 L530.81 293.70 L531.60 293.70 L532.39 293.70 L533.19 293.70 L533.98 293.70 L534.78 293.70 L535.57 293.70 L536.36 293.70 L537.16 293.70 L537.95 293.70 L538.75 293.70 L539.54 293.70 L540.33 293.70 L541.13 293.70 L541.92 293.70 L542.71 293.70 L543.51 293.70 L544.30 293.70 L545.10 293.70 L545.89 293.70 L546.68 293.70 L547.48 293.70 L548.27 293.70 L549.07 293.70 L549.86 293.70 L550.65 293.70 L551.45 293.70 L552.24 293.70 L553.04 293.70 L553.83 293.70 L554.62 293.70 L555.42 293.70 L556.21 293.70 L557.00 293.70 L557.80 293.70 L558.59 293.70 L559.39 293.70 L560.18 293.70 L560.97 293.70 L561.77 293.70 L562.56 293.70 L563.36 293.70 L564.15 293.70 L564.94 293.70 L565.74 293.70 L566.53 293.70 L567.32 293.70 L568.12 293.70 L568.91 293.70 L569.71 293.70 L570.50 293.70" fill="none" stroke="#2b83ba" stroke-width="2.5" stroke-linejoin="round" clip-path="url(#cr)"/>
<path d="M320.40 293.70 L321.19 293.70 L321.99 293.70 L322.78 293.70 L323.57 293.70 L324.37 293.70 L325.16 293.70 L325.95 293.70 L326.75 293.70 L327.54 293.70 L328.34 293.70 L329.13 293.70 L329.92 293.70 L330.72 293.70 L331.51 293.70 L332.30 293.70 L333.10 293.70 L333.89 293.70 L334.68 293.70 L335.48 293.70 L336.27 293.70 L337.06 293.70 L337.86 293.70 L338.65 293.70 L339.45 293.70 L340.24 293.70 L341.03 293.70 L341.83 293.70 L342.62 293.70 L343.41 293.70 L344.21 293.70 L345.00 293.70 L344.98 294.10 L345.87 294.01 L346.72 293.87 L347.55 293.70 L348.35 293.48 L349.12 293.23 L349.86 292.95 L350.58 292.63 L351.27 292.28 L351.94 291.89 L352.59 291.48 L353.22 291.04 L353.83 290.58 L354.41 290.09 L354.98 289.58 L355.54 289.05 L356.07 288.49 L356.59 287.92 L357.10 287.34 L357.60 286.74 L358.08 286.12 L358.55 285.49 L359.01 284.85 L359.46 284.20 L359.91 283.55 L360.34 282.88 L360.77 282.21 L361.19 281.53 L361.61 280.84 L362.02 280.15 L362.43 279.45 L362.84 278.76 L363.24 278.05 L363.65 277.35 L364.05 276.65 L364.45 275.95 L364.86 275.25 L365.27 274.55 L365.68 273.85 L366.09 273.16 L366.51 272.47 L366.93 271.79 L367.36 271.11 L367.80 270.44 L368.24 269.78 L368.68 269.11 L369.13 268.45 L369.58 267.80 L370.04 267.15 L370.50 266.50 L370.96 265.86 L371.43 265.21 L371.89 264.57 L372.37 263.93 L372.84 263.30 L373.32 262.66 L373.80 262.03 L374.28 261.40 L374.76 260.76 L375.25 260.13 L375.73 259.50 L376.22 258.87 L376.71 258.23 L377.19 257.60 L377.69 256.97 L378.18 256.34 L378.67 255.71 L379.17 255.08 L379.67 254.45 L380.18 253.83 L380.68 253.21 L381.20 252.59 L381.71 251.97 L382.23 251.36 L382.75 250.75 L383.28 250.15 L383.81 249.55 L384.35 248.96 L384.89 248.37 L385.44 247.78 L386.00 247.20 L386.56 246.63 L387.13 246.07 L387.70 245.51 L388.28 244.95 L388.86 244.41 L389.45 243.87 L390.05 243.33 L390.65 242.81 L391.26 242.29 L391.87 241.77 L392.49 241.27 L393.11 240.77 L393.74 240.27 L394.38 239.79 L395.02 239.31 L395.66 238.84 L396.31 238.37 L396.96 237.91 L397.62 237.46 L398.29 237.02 L398.96 236.59 L399.63 236.16 L400.31 235.74 L400.99 235.32 L401.67 234.92 L402.36 234.52 L403.06 234.13 L403.76 233.75 L404.46 233.38 L405.16 233.01 L405.87 232.65 L406.59 232.30 L407.31 231.96 L408.03 231.63 L408.75 231.30 L409.48 230.99 L410.21 230.68 L410.95 230.38 L411.69 230.09 L412.43 229.81 L413.17 229.53 L413.92 229.27 L414.67 229.01 L415.42 228.77 L416.18 228.52 L416.94 228.29 L417.70 228.07 L418.47 227.85 L419.23 227.64 L420.00 227.44 L420.77 227.25 L421.55 227.06 L422.32 226.88 L423.10 226.70 L423.88 226.53 L424.66 226.37 L425.44 226.22 L426.23 226.07 L427.01 225.93 L427.80 225.79 L428.59 225.66 L429.38 225.53 L430.17 225.41 L430.97 225.30 L431.76 225.18 L432.56 225.08 L433.35 224.98 L434.15 224.88 L434.95 224.79 L435.75 224.70 L436.55 224.62 L437.35 224.54 L438.15 224.46 L438.95 224.39 L439.75 224.32 L440.55 224.26 L441.36 224.20 L442.16 224.14 L442.96 224.08 L443.76 224.03 L444.56 223.98 L445.37 223.93 L446.17 223.88 L446.97 223.84 L447.77 223.80 L448.57 223.76 L449.37 223.72 L450.17 223.69 L450.97 223.66 L451.77 223.63 L452.57 223.61 L453.37 223.58 L454.17 223.56 L454.97 223.54 L455.77 223.52 L456.57 223.51 L457.37 223.50 L458.17 223.49 L458.97 223.48 L459.77 223.48 L460.57 223.47 L461.37 223.47 L462.17 223.47 L462.96 223.48 L463.76 223.48 L464.56 223.49 L465.36 223.50 L466.16 223.51 L466.96 223.53 L467.75 223.54 L468.55 223.56 L469.35 223.58 L470.15 223.61 L470.94 223.63 L471.74 223.66 L472.54 223.69 L473.33 223.72 L474.13 223.75 L474.93 223.78 L475.72 223.82 L476.52 223.86 L477.31 223.90 L478.11 223.94 L478.91 223.98 L479.70 224.03 L480.50 224.07 L481.29 224.12 L482.09 224.17 L482.88 224.23 L483.68 224.28 L484.47 224.34 L485.27 224.40 L486.06 224.45 L486.86 224.52 L487.65 224.58 L488.45 224.64 L489.24 224.71 L490.04 224.78 L490.83 224.85 L491.62 224.92 L492.42 224.99 L493.21 225.06 L494.00 225.14 L494.80 225.21 L495.59 225.29 L496.38 225.37 L497.18 225.45 L497.97 225.53 L498.76 225.62 L499.56 225.70 L500.35 225.79 L501.14 225.88 L501.93 225.97 L502.73 226.06 L503.52 226.15 L504.31 226.24 L505.10 226.34 L505.89 226.43 L506.69 226.53 L507.48 226.63 L508.27 226.73 L509.06 226.83 L509.85 226.93 L510.64 227.03 L511.43 227.14 L512.23 227.24 L513.02 227.35 L513.81 227.46 L514.60 227.56 L515.39 227.67 L516.18 227.78 L516.97 227.90 L517.76 228.01 L518.55 228.12 L519.34 228.24 L520.13 228.35 L520.92 228.47 L521.71 228.58 L522.50 228.70 L523.29 228.82 L524.08 228.94 L524.87 229.06 L525.66 229.18 L526.45 229.30 L527.24 229.43 L528.03 229.55 L528.82 229.68 L529.60 229.80 L530.39 229.93 L531.18 230.05 L531.97 230.18 L532.76 230.31 L533.55 230.44 L534.34 230.57 L535.12 230.70 L535.91 230.83 L536.70 230.96 L537.49 231.09 L538.28 231.22 L539.07 231.35 L539.85 231.49 L540.64 231.62 L541.43 231.75 L542.22 231.89 L543.00 232.02 L543.79 232.16 L544.58 232.29 L545.37 232.43 L546.15 232.57 L546.94 232.70 L547.73 232.84 L548.52 232.98 L549.30 233.12 L550.09 233.25 L550.88 233.39 L551.66 233.53 L552.45 233.67 L553.24 233.81 L554.02 233.95 L554.81 234.09 L555.60 234.23 L556.38 234.37 L557.17 234.51 L557.95 234.65 L558.74 234.79 L559.53 234.93 L560.31 235.07 L561.10 235.21 L561.88 235.35 L562.67 235.49 L563.46 235.63 L564.24 235.77 L565.03 235.91 L565.81 236.05 L566.60 236.19 L567.38 236.33 L568.17 236.47 L568.95 236.61 L569.74 236.75 L570.53 236.88" fill="none" stroke="#d7191c" stroke-width="2.5" stroke-linejoin="round" stroke-dasharray="6.5 9.3" stroke-dashoffset="5.9" clip-path="url(#cr)"/>
<path d="M320.40 293.70 L321.19 293.70 L321.99 293.70 L322.78 293.70 L323.57 293.70 L324.37 293.70 L325.16 293.70 L325.95 293.70 L326.75 293.70 L327.54 293.70 L328.34 293.70 L329.13 293.70 L329.92 293.70 L330.72 293.70 L331.51 293.70 L332.30 293.70 L333.10 293.70 L333.89 293.70 L334.68 293.70 L335.48 293.70 L336.27 293.70 L337.06 293.70 L337.86 293.70 L338.65 293.70 L339.45 293.70 L340.24 293.70 L341.03 293.70 L341.83 293.70 L342.62 293.70 L343.41 293.70 L344.21 293.70 L345.00 293.70 L345.14 293.96 L345.91 293.92 L346.67 293.79 L347.39 293.58 L348.11 293.29 L348.80 292.94 L349.48 292.55 L350.15 292.11 L350.81 291.65 L351.47 291.17 L352.13 290.68 L352.78 290.20 L353.44 289.73 L354.10 289.27 L354.77 288.84 L355.44 288.44 L356.11 288.07 L356.79 287.75 L357.48 287.47 L358.17 287.24 L358.87 287.07 L359.58 286.96 L360.29 286.91 L361.02 286.91 L361.75 286.96 L362.48 287.06 L363.22 287.20 L363.97 287.37 L364.72 287.57 L365.48 287.80 L366.24 288.05 L367.01 288.32 L367.78 288.60 L368.55 288.89 L369.33 289.18 L370.11 289.47 L370.89 289.76 L371.67 290.03 L372.45 290.30 L373.23 290.54 L374.02 290.77 L374.80 290.99 L375.59 291.19 L376.38 291.38 L377.16 291.56 L377.95 291.72 L378.74 291.87 L379.53 292.00 L380.32 292.13 L381.11 292.25 L381.90 292.35 L382.70 292.45 L383.49 292.53 L384.28 292.61 L385.08 292.68 L385.87 292.73 L386.67 292.79 L387.46 292.83 L388.26 292.87 L389.05 292.90 L389.85 292.92 L390.65 292.94 L391.44 292.96 L392.24 292.97 L393.04 292.98 L393.84 292.98 L394.63 292.98 L395.43 292.98 L396.23 292.97 L397.03 292.97 L397.83 292.96 L398.63 292.95 L399.43 292.94 L400.23 292.93 L401.02 292.93 L401.82 292.92 L402.62 292.91 L403.42 292.90 L404.22 292.90 L405.02 292.89 L405.82 292.88 L406.62 292.88 L407.42 292.87 L408.22 292.87 L409.02 292.86 L409.81 292.86 L410.61 292.85 L411.41 292.85 L412.21 292.84 L413.01 292.84 L413.81 292.83 L414.61 292.83 L415.41 292.82 L416.21 292.82 L417.01 292.82 L417.81 292.81 L418.61 292.81 L419.41 292.81 L420.21 292.80 L421.01 292.80 L421.80 292.80 L422.60 292.80 L423.40 292.80 L424.20 292.79 L425.00 292.79 L425.80 292.79 L426.60 292.79 L427.40 292.79 L428.20 292.79 L429.00 292.78 L429.80 292.78 L430.60 292.78 L431.40 292.78 L432.20 292.78 L433.00 292.78 L433.80 292.78 L434.60 292.78 L435.40 292.78 L436.20 292.78 L437.00 292.78 L437.80 292.78 L438.60 292.78 L439.40 292.78 L440.20 292.78 L440.99 292.78 L441.79 292.78 L442.59 292.78 L443.39 292.78 L444.19 292.79 L444.99 292.79 L445.79 292.79 L446.59 292.79 L447.39 292.79 L448.19 292.79 L448.99 292.79 L449.79 292.79 L450.59 292.79 L451.39 292.80 L452.19 292.80 L452.99 292.80 L453.79 292.80 L454.59 292.80 L455.39 292.80 L456.19 292.80 L456.99 292.80 L457.79 292.81 L458.59 292.81 L459.39 292.81 L460.19 292.81 L460.99 292.81 L461.78 292.81 L462.58 292.81 L463.38 292.82 L464.18 292.82 L464.98 292.82 L465.78 292.82 L466.58 292.82 L467.38 292.82 L468.18 292.82 L468.98 292.83 L469.78 292.83 L470.58 292.83 L471.38 292.83 L472.18 292.83 L472.98 292.83 L473.78 292.84 L474.58 292.84 L475.38 292.84 L476.18 292.84 L476.97 292.84 L477.77 292.84 L478.57 292.85 L479.37 292.85 L480.17 292.85 L480.97 292.85 L481.77 292.85 L482.57 292.86 L483.37 292.86 L484.17 292.86 L484.97 292.86 L485.77 292.86 L486.57 292.87 L487.37 292.87 L488.17 292.87 L488.96 292.87 L489.76 292.87 L490.56 292.88 L491.36 292.88 L492.16 292.88 L492.96 292.88 L493.76 292.89 L494.56 292.89 L495.36 292.89 L496.16 292.89 L496.96 292.90 L497.76 292.90 L498.56 292.90 L499.36 292.91 L500.16 292.91 L500.95 292.91 L501.75 292.91 L502.55 292.92 L503.35 292.92 L504.15 292.92 L504.95 292.93 L505.75 292.93 L506.55 292.93 L507.35 292.94 L508.15 292.94 L508.95 292.94 L509.75 292.95 L510.55 292.95 L511.35 292.95 L512.14 292.96 L512.94 292.96 L513.74 292.96 L514.54 292.97 L515.34 292.97 L516.14 292.98 L516.94 292.98 L517.74 292.98 L518.54 292.99 L519.34 292.99 L520.14 293.00 L520.94 293.00 L521.74 293.01 L522.54 293.01 L523.33 293.02 L524.13 293.02 L524.93 293.03 L525.73 293.03 L526.53 293.04 L527.33 293.04 L528.13 293.05 L528.93 293.05 L529.73 293.06 L530.53 293.06 L531.33 293.07 L532.13 293.07 L532.93 293.08 L533.73 293.08 L534.53 293.09 L535.32 293.10 L536.12 293.10 L536.92 293.11 L537.72 293.11 L538.52 293.12 L539.32 293.13 L540.12 293.13 L540.92 293.14 L541.72 293.15 L542.52 293.15 L543.32 293.16 L544.12 293.17 L544.92 293.17 L545.72 293.18 L546.52 293.19 L547.32 293.20 L548.12 293.20 L548.92 293.21 L549.71 293.22 L550.51 293.23 L551.31 293.23 L552.11 293.24 L552.91 293.25 L553.71 293.26 L554.51 293.27 L555.31 293.27 L556.11 293.28 L556.91 293.29 L557.71 293.30 L558.51 293.31 L559.31 293.32 L560.11 293.33 L560.91 293.34 L561.71 293.35 L562.51 293.36 L563.31 293.37 L564.11 293.38 L564.91 293.38 L565.71 293.39 L566.51 293.40 L567.30 293.41 L568.10 293.43 L568.90 293.44 L569.70 293.45 L570.50 293.46" fill="none" stroke="#2b83ba" stroke-width="2.5" stroke-linejoin="round" stroke-dasharray="6.5 9.3" stroke-dashoffset="5.7" clip-path="url(#cr)"/>
<path d="M70.50 53.50 V304.00 M570.50 63.50 V294.00 M60.50 63.50 H580.50 M60.50 294.00 H580.50 M134.60 53.50 V63.50 M134.60 294.00 V304.00 M198.71 53.50 V63.50 M198.71 294.00 V304.00 M262.81 53.50 V63.50 M262.81 294.00 V304.00 M384.50 53.50 V63.50 M384.50 294.00 V304.00 M448.61 53.50 V63.50 M448.61 294.00 V304.00 M512.71 53.50 V63.50 M512.71 294.00 V304.00 M60.50 217.17 H70.50 M310.40 217.17 H330.40 M570.50 217.17 H580.50 M60.50 140.33 H70.50 M310.40 140.33 H330.40 M570.50 140.33 H580.50" fill="none" stroke="#000" stroke-width="1"/>
<path d="M320.40 53.50 V304.00" fill="none" stroke="#000" stroke-width="1.3"/>
<path d="M246.3 10.45 H285" stroke="#d7191c" stroke-width="2.5"/>
<path d="M246.3 35.45 H285" stroke="#2b83ba" stroke-width="2.5"/>
<path d="M496.2 10.45 H535" stroke="#d7191c" stroke-width="2.5" stroke-dasharray="6.3 9.6"/>
<path d="M496.2 35.45 H535" stroke="#2b83ba" stroke-width="2.5" stroke-dasharray="6.3 9.6"/>
<text transform="translate(237.60 16.70) scale(0.9615 1)" font-size="17.80" text-anchor="end" xml:space="preserve">E<tspan font-size="14.24" dy="5.1">3</tspan><tspan dy="-5.1"> = -0.4 MeV, s-wave</tspan></text>
<text transform="translate(237.60 42.20) scale(0.9615 1)" font-size="17.80" text-anchor="end" xml:space="preserve">E<tspan font-size="14.24" dy="5.1">3</tspan><tspan dy="-5.1"> = -0.4 MeV, d-wave</tspan></text>
<text transform="translate(486.80 16.70) scale(0.9551 1)" font-size="17.80" text-anchor="end" xml:space="preserve">E<tspan font-size="14.24" dy="5.1">3</tspan><tspan dy="-5.1"> = 0.00 MeV, s-wave</tspan></text>
<text transform="translate(486.80 42.20) scale(0.9551 1)" font-size="17.80" text-anchor="end" xml:space="preserve">E<tspan font-size="14.24" dy="5.1">3</tspan><tspan dy="-5.1"> = 0.00 MeV, d-wave</tspan></text>
<text transform="translate(307.30 85.50) scale(0.9551 1)" font-size="17.80" text-anchor="end" xml:space="preserve">s<tspan font-size="14.24" dy="-6.8" letter-spacing="0.2">(0.00)</tspan><tspan dy="6.8" dx="0.0"> = 85%</tspan></text>
<text transform="translate(307.30 109.70) scale(0.9551 1)" font-size="17.80" text-anchor="end" xml:space="preserve">d<tspan font-size="14.24" dy="-6.8" letter-spacing="0.2">(0.00)</tspan><tspan dy="6.8" dx="0.0"> = 12%</tspan></text>
<text transform="translate(307.30 134.90) scale(0.9551 1)" font-size="17.80" text-anchor="end" xml:space="preserve">s<tspan font-size="14.24" dy="-6.8" letter-spacing="0.2">(-0.4)</tspan><tspan dy="6.8" dx="0.0"> = 88%</tspan></text>
<text transform="translate(307.30 159.30) scale(0.9551 1)" font-size="17.80" text-anchor="end" xml:space="preserve">d<tspan font-size="14.24" dy="-6.8" letter-spacing="0.2">(-0.4)</tspan><tspan dy="6.8" dx="1.0"> = 11%</tspan></text>
<text transform="translate(557.30 85.50) scale(0.9551 1)" font-size="17.80" text-anchor="end" xml:space="preserve">s<tspan font-size="14.24" dy="-6.8" letter-spacing="0.2">(0.00)</tspan><tspan dy="6.8" dx="0.0"> = 93%</tspan></text>
<text transform="translate(557.30 109.70) scale(0.9551 1)" font-size="17.80" text-anchor="end" xml:space="preserve">d<tspan font-size="14.24" dy="-6.8" letter-spacing="0.2">(0.00)</tspan><tspan dy="6.8" dx="0.0"> = 2%</tspan></text>
<text transform="translate(557.30 134.90) scale(0.9551 1)" font-size="17.80" text-anchor="end" xml:space="preserve">s<tspan font-size="14.24" dy="-6.8" letter-spacing="0.2">(-0.4)</tspan><tspan dy="6.8" dx="0.0"> =  95 %</tspan></text>
<text transform="translate(557.30 159.30) scale(0.9551 1)" font-size="17.80" text-anchor="end" xml:space="preserve">d<tspan font-size="14.24" dy="-6.8" letter-spacing="0.2">(-0.4)</tspan><tspan dy="6.8" dx="0.0"> = 4%</tspan></text>
<text transform="translate(51.00 300.90) scale(0.9551 1)" font-size="17.80" text-anchor="end" xml:space="preserve">0</text>
<text transform="translate(51.00 224.07) scale(0.9551 1)" font-size="17.80" text-anchor="end" xml:space="preserve">2</text>
<text transform="translate(51.00 147.23) scale(0.9551 1)" font-size="17.80" text-anchor="end" xml:space="preserve">4</text>
<text transform="translate(51.00 70.40) scale(0.9551 1)" font-size="17.80" text-anchor="end" xml:space="preserve">6</text>
<text transform="translate(72.70 322.80) scale(0.9551 1)" font-size="17.80" text-anchor="middle" xml:space="preserve">0</text>
<text transform="translate(136.80 322.80) scale(0.9551 1)" font-size="17.80" text-anchor="middle" xml:space="preserve">10</text>
<text transform="translate(200.91 322.80) scale(0.9551 1)" font-size="17.80" text-anchor="middle" xml:space="preserve">20</text>
<text transform="translate(265.01 322.80) scale(0.9551 1)" font-size="17.80" text-anchor="middle" xml:space="preserve">30</text>
<text transform="translate(322.60 322.80) scale(0.9551 1)" font-size="17.80" text-anchor="middle" xml:space="preserve">0</text>
<text transform="translate(386.70 322.80) scale(0.9551 1)" font-size="17.80" text-anchor="middle" xml:space="preserve">10</text>
<text transform="translate(450.81 322.80) scale(0.9551 1)" font-size="17.80" text-anchor="middle" xml:space="preserve">20</text>
<text transform="translate(514.91 322.80) scale(0.9551 1)" font-size="17.80" text-anchor="middle" xml:space="preserve">30</text>
<text transform="translate(195.40 342.50) scale(0.9920 1)" font-size="17.80" text-anchor="middle" xml:space="preserve">ρ [fm]</text>
<text transform="translate(445.40 342.50) scale(0.9920 1)" font-size="17.80" text-anchor="middle" xml:space="preserve">ρ [fm]</text>
<text transform="translate(16.90 179.20) rotate(-90) scale(0.9740 1)" font-size="17.80" text-anchor="middle" xml:space="preserve">Contribution [%]</text>
</svg></body></html>
